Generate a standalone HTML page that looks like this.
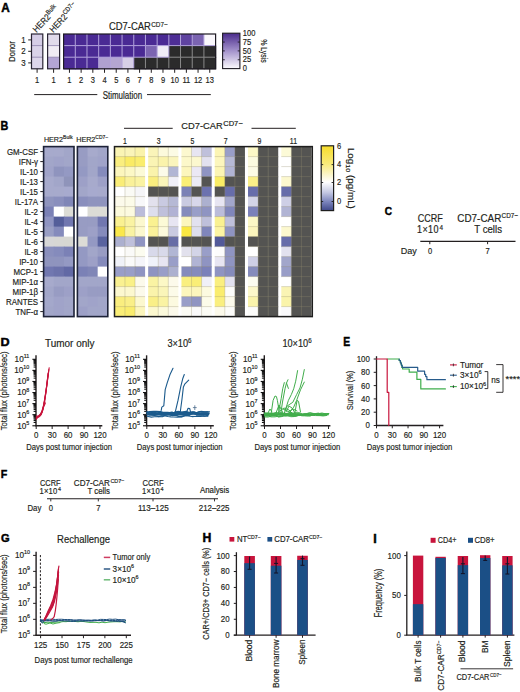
<!DOCTYPE html>
<html><head><meta charset="utf-8"><style>
html,body{margin:0;padding:0;background:#fff;width:520px;height:692px;overflow:hidden}
svg{display:block;font-family:"Liberation Sans",sans-serif}
text{fill:#231f20;stroke:#231f20;stroke-width:0.18px}
</style></head><body>
<svg width="520" height="692" viewBox="0 0 520 692">
<text transform="translate(1.16 11.50) scale(0.994 1)" font-size="11.85" font-weight="bold" style="fill:#000;stroke:#000;stroke-width:0.45px">A</text>
<g transform="translate(36.6 33.0) rotate(-47)"><text x="0" y="0" font-size="8.96" transform="translate(0.00 0.00) scale(0.8929 1) translate(-0.00 -0.00)">HER2<tspan dy="-3.58" font-size="6.50">Bulk</tspan></text></g>
<g transform="translate(53.2 33.0) rotate(-47)"><text x="0" y="0" font-size="8.96" transform="translate(0.00 0.00) scale(0.8929 1) translate(-0.00 -0.00)">HER2<tspan dy="-3.58" font-size="6.50">CD7−</tspan></text></g>
<rect x="31.50" y="34.00" width="11.30" height="12.20" fill="#d5cde6" />
<rect x="31.50" y="45.60" width="11.30" height="12.20" fill="#dad3e9" />
<rect x="31.50" y="57.20" width="11.30" height="11.60" fill="#ddd6eb" />
<line x1="31.50" y1="45.60" x2="42.80" y2="45.60" stroke="#8e82ad" stroke-width="0.8" />
<line x1="31.50" y1="57.20" x2="42.80" y2="57.20" stroke="#8e82ad" stroke-width="0.8" />
<rect x="31.50" y="34.00" width="11.30" height="34.80" fill="none" stroke="#2a2535" stroke-width="1.2" />
<rect x="47.60" y="34.00" width="12.00" height="12.20" fill="#e1dbeb" />
<rect x="47.60" y="45.60" width="12.00" height="12.20" fill="#f0ecf4" />
<rect x="47.60" y="57.20" width="12.00" height="11.60" fill="#b3a5d5" />
<line x1="47.60" y1="45.60" x2="59.60" y2="45.60" stroke="#8e82ad" stroke-width="0.8" />
<line x1="47.60" y1="57.20" x2="59.60" y2="57.20" stroke="#8e82ad" stroke-width="0.8" />
<rect x="47.60" y="34.00" width="12.00" height="34.80" fill="none" stroke="#2a2535" stroke-width="1.2" />
<rect x="63.60" y="34.00" width="12.29" height="12.20" fill="#4a2a94" />
<rect x="75.29" y="34.00" width="12.29" height="12.20" fill="#4a2a94" />
<rect x="86.98" y="34.00" width="12.29" height="12.20" fill="#4a2a94" />
<rect x="98.68" y="34.00" width="12.29" height="12.20" fill="#4a2a94" />
<rect x="110.37" y="34.00" width="12.29" height="12.20" fill="#4a2a94" />
<rect x="122.06" y="34.00" width="12.29" height="12.20" fill="#4a2a94" />
<rect x="133.75" y="34.00" width="12.29" height="12.20" fill="#4a2a94" />
<rect x="145.45" y="34.00" width="12.29" height="12.20" fill="#4a2a94" />
<rect x="157.14" y="34.00" width="12.29" height="12.20" fill="#4a2a94" />
<rect x="168.83" y="34.00" width="12.29" height="12.20" fill="#4e2e96" />
<rect x="180.52" y="34.00" width="12.29" height="12.20" fill="#5f43a0" />
<rect x="192.22" y="34.00" width="12.29" height="12.20" fill="#7b64b1" />
<rect x="203.91" y="34.00" width="12.29" height="12.20" fill="#faf8fc" />
<rect x="63.60" y="45.60" width="12.29" height="12.20" fill="#4a2a94" />
<rect x="75.29" y="45.60" width="12.29" height="12.20" fill="#4a2a94" />
<rect x="86.98" y="45.60" width="12.29" height="12.20" fill="#4a2a94" />
<rect x="98.68" y="45.60" width="12.29" height="12.20" fill="#4a2a94" />
<rect x="110.37" y="45.60" width="12.29" height="12.20" fill="#4a2a94" />
<rect x="122.06" y="45.60" width="12.29" height="12.20" fill="#4a2a94" />
<rect x="133.75" y="45.60" width="12.29" height="12.20" fill="#4a2a94" />
<rect x="145.45" y="45.60" width="12.29" height="12.20" fill="#7b64b1" />
<rect x="157.14" y="45.60" width="12.29" height="12.20" fill="#efecf6" />
<rect x="168.83" y="45.60" width="12.29" height="12.20" fill="#2b2b2b" />
<rect x="180.52" y="45.60" width="12.29" height="12.20" fill="#2b2b2b" />
<rect x="192.22" y="45.60" width="12.29" height="12.20" fill="#2b2b2b" />
<rect x="203.91" y="45.60" width="12.29" height="12.20" fill="#2b2b2b" />
<rect x="63.60" y="57.20" width="12.29" height="12.20" fill="#4a2a94" />
<rect x="75.29" y="57.20" width="12.29" height="12.20" fill="#4a2a94" />
<rect x="86.98" y="57.20" width="12.29" height="12.20" fill="#4a2a94" />
<rect x="98.68" y="57.20" width="12.29" height="12.20" fill="#b0a1d0" />
<rect x="110.37" y="57.20" width="12.29" height="12.20" fill="#b4a6d2" />
<rect x="122.06" y="57.20" width="12.29" height="12.20" fill="#d7cfe7" />
<rect x="133.75" y="57.20" width="12.29" height="12.20" fill="#2b2b2b" />
<rect x="145.45" y="57.20" width="12.29" height="12.20" fill="#2b2b2b" />
<rect x="157.14" y="57.20" width="12.29" height="12.20" fill="#2b2b2b" />
<rect x="168.83" y="57.20" width="12.29" height="12.20" fill="#2b2b2b" />
<rect x="180.52" y="57.20" width="12.29" height="12.20" fill="#2b2b2b" />
<rect x="192.22" y="57.20" width="12.29" height="12.20" fill="#2b2b2b" />
<rect x="203.91" y="57.20" width="12.29" height="12.20" fill="#2b2b2b" />
<line x1="75.29" y1="34.00" x2="75.29" y2="45.60" stroke="#b2a3dc" stroke-width="1.0" />
<line x1="75.29" y1="45.60" x2="75.29" y2="57.20" stroke="#b2a3dc" stroke-width="1.0" />
<line x1="75.29" y1="57.20" x2="75.29" y2="68.80" stroke="#b2a3dc" stroke-width="1.0" />
<line x1="86.98" y1="34.00" x2="86.98" y2="45.60" stroke="#b2a3dc" stroke-width="1.0" />
<line x1="86.98" y1="45.60" x2="86.98" y2="57.20" stroke="#b2a3dc" stroke-width="1.0" />
<line x1="86.98" y1="57.20" x2="86.98" y2="68.80" stroke="#b2a3dc" stroke-width="1.0" />
<line x1="98.68" y1="34.00" x2="98.68" y2="45.60" stroke="#b2a3dc" stroke-width="1.0" />
<line x1="98.68" y1="45.60" x2="98.68" y2="57.20" stroke="#b2a3dc" stroke-width="1.0" />
<line x1="98.68" y1="57.20" x2="98.68" y2="68.80" stroke="#b2a3dc" stroke-width="1.0" />
<line x1="110.37" y1="34.00" x2="110.37" y2="45.60" stroke="#b2a3dc" stroke-width="1.0" />
<line x1="110.37" y1="45.60" x2="110.37" y2="57.20" stroke="#b2a3dc" stroke-width="1.0" />
<line x1="110.37" y1="57.20" x2="110.37" y2="68.80" stroke="#b2a3dc" stroke-width="1.0" />
<line x1="122.06" y1="34.00" x2="122.06" y2="45.60" stroke="#b2a3dc" stroke-width="1.0" />
<line x1="122.06" y1="45.60" x2="122.06" y2="57.20" stroke="#b2a3dc" stroke-width="1.0" />
<line x1="122.06" y1="57.20" x2="122.06" y2="68.80" stroke="#b2a3dc" stroke-width="1.0" />
<line x1="133.75" y1="34.00" x2="133.75" y2="45.60" stroke="#b2a3dc" stroke-width="1.0" />
<line x1="133.75" y1="45.60" x2="133.75" y2="57.20" stroke="#b2a3dc" stroke-width="1.0" />
<line x1="133.75" y1="57.20" x2="133.75" y2="68.80" stroke="#b2a3dc" stroke-width="1.0" />
<line x1="145.45" y1="34.00" x2="145.45" y2="45.60" stroke="#b2a3dc" stroke-width="1.0" />
<line x1="145.45" y1="45.60" x2="145.45" y2="57.20" stroke="#b2a3dc" stroke-width="1.0" />
<line x1="145.45" y1="57.20" x2="145.45" y2="68.80" stroke="#8a8a8a" stroke-width="1.0" />
<line x1="157.14" y1="34.00" x2="157.14" y2="45.60" stroke="#b2a3dc" stroke-width="1.0" />
<line x1="157.14" y1="45.60" x2="157.14" y2="57.20" stroke="#b2a3dc" stroke-width="1.0" />
<line x1="157.14" y1="57.20" x2="157.14" y2="68.80" stroke="#8a8a8a" stroke-width="1.0" />
<line x1="168.83" y1="34.00" x2="168.83" y2="45.60" stroke="#b2a3dc" stroke-width="1.0" />
<line x1="168.83" y1="45.60" x2="168.83" y2="57.20" stroke="#b2a3dc" stroke-width="1.0" />
<line x1="168.83" y1="57.20" x2="168.83" y2="68.80" stroke="#8a8a8a" stroke-width="1.0" />
<line x1="180.52" y1="34.00" x2="180.52" y2="45.60" stroke="#b2a3dc" stroke-width="1.0" />
<line x1="180.52" y1="45.60" x2="180.52" y2="57.20" stroke="#8a8a8a" stroke-width="1.0" />
<line x1="180.52" y1="57.20" x2="180.52" y2="68.80" stroke="#8a8a8a" stroke-width="1.0" />
<line x1="192.22" y1="34.00" x2="192.22" y2="45.60" stroke="#b2a3dc" stroke-width="1.0" />
<line x1="192.22" y1="45.60" x2="192.22" y2="57.20" stroke="#8a8a8a" stroke-width="1.0" />
<line x1="192.22" y1="57.20" x2="192.22" y2="68.80" stroke="#8a8a8a" stroke-width="1.0" />
<line x1="203.91" y1="34.00" x2="203.91" y2="45.60" stroke="#b2a3dc" stroke-width="1.0" />
<line x1="203.91" y1="45.60" x2="203.91" y2="57.20" stroke="#8a8a8a" stroke-width="1.0" />
<line x1="203.91" y1="57.20" x2="203.91" y2="68.80" stroke="#8a8a8a" stroke-width="1.0" />
<line x1="63.60" y1="45.60" x2="75.29" y2="45.60" stroke="#b2a3dc" stroke-width="1.0" />
<line x1="75.29" y1="45.60" x2="86.98" y2="45.60" stroke="#b2a3dc" stroke-width="1.0" />
<line x1="86.98" y1="45.60" x2="98.68" y2="45.60" stroke="#b2a3dc" stroke-width="1.0" />
<line x1="98.68" y1="45.60" x2="110.37" y2="45.60" stroke="#b2a3dc" stroke-width="1.0" />
<line x1="110.37" y1="45.60" x2="122.06" y2="45.60" stroke="#b2a3dc" stroke-width="1.0" />
<line x1="122.06" y1="45.60" x2="133.75" y2="45.60" stroke="#b2a3dc" stroke-width="1.0" />
<line x1="133.75" y1="45.60" x2="145.45" y2="45.60" stroke="#b2a3dc" stroke-width="1.0" />
<line x1="145.45" y1="45.60" x2="157.14" y2="45.60" stroke="#b2a3dc" stroke-width="1.0" />
<line x1="157.14" y1="45.60" x2="168.83" y2="45.60" stroke="#b2a3dc" stroke-width="1.0" />
<line x1="168.83" y1="45.60" x2="180.52" y2="45.60" stroke="#b2a3dc" stroke-width="1.0" />
<line x1="180.52" y1="45.60" x2="192.22" y2="45.60" stroke="#b2a3dc" stroke-width="1.0" />
<line x1="192.22" y1="45.60" x2="203.91" y2="45.60" stroke="#b2a3dc" stroke-width="1.0" />
<line x1="203.91" y1="45.60" x2="215.60" y2="45.60" stroke="#b2a3dc" stroke-width="1.0" />
<line x1="63.60" y1="57.20" x2="75.29" y2="57.20" stroke="#b2a3dc" stroke-width="1.0" />
<line x1="75.29" y1="57.20" x2="86.98" y2="57.20" stroke="#b2a3dc" stroke-width="1.0" />
<line x1="86.98" y1="57.20" x2="98.68" y2="57.20" stroke="#b2a3dc" stroke-width="1.0" />
<line x1="98.68" y1="57.20" x2="110.37" y2="57.20" stroke="#b2a3dc" stroke-width="1.0" />
<line x1="110.37" y1="57.20" x2="122.06" y2="57.20" stroke="#b2a3dc" stroke-width="1.0" />
<line x1="122.06" y1="57.20" x2="133.75" y2="57.20" stroke="#b2a3dc" stroke-width="1.0" />
<line x1="133.75" y1="57.20" x2="145.45" y2="57.20" stroke="#b2a3dc" stroke-width="1.0" />
<line x1="145.45" y1="57.20" x2="157.14" y2="57.20" stroke="#b2a3dc" stroke-width="1.0" />
<line x1="157.14" y1="57.20" x2="168.83" y2="57.20" stroke="#b2a3dc" stroke-width="1.0" />
<line x1="168.83" y1="57.20" x2="180.52" y2="57.20" stroke="#8a8a8a" stroke-width="1.0" />
<line x1="180.52" y1="57.20" x2="192.22" y2="57.20" stroke="#8a8a8a" stroke-width="1.0" />
<line x1="192.22" y1="57.20" x2="203.91" y2="57.20" stroke="#8a8a8a" stroke-width="1.0" />
<line x1="203.91" y1="57.20" x2="215.60" y2="57.20" stroke="#8a8a8a" stroke-width="1.0" />
<rect x="63.60" y="34.00" width="152.00" height="34.80" fill="none" stroke="#1e1b24" stroke-width="1.2" />
<line x1="28.20" y1="39.90" x2="31.50" y2="39.90" stroke="#231f20" stroke-width="1" />
<text x="0" y="0" font-size="9.44" transform="translate(25.60 42.90) scale(0.840 1)" text-anchor="end" >1</text>
<line x1="28.20" y1="51.30" x2="31.50" y2="51.30" stroke="#231f20" stroke-width="1" />
<text x="0" y="0" font-size="9.44" transform="translate(25.60 54.30) scale(0.840 1)" text-anchor="end" >2</text>
<line x1="28.20" y1="62.90" x2="31.50" y2="62.90" stroke="#231f20" stroke-width="1" />
<text x="0" y="0" font-size="9.44" transform="translate(25.60 65.90) scale(0.840 1)" text-anchor="end" >3</text>
<g transform="translate(11.60 51.50) rotate(-90)"><text x="0" y="3.01" font-size="9.63" text-anchor="middle" textLength="22.96" lengthAdjust="spacingAndGlyphs" transform="translate(0.00 3.01) scale(0.8929 1) translate(-0.00 -3.01)">Donor</text></g>
<line x1="37.10" y1="68.80" x2="37.10" y2="72.80" stroke="#231f20" stroke-width="1" />
<text x="0" y="0" font-size="8.97" transform="translate(37.10 83.00) scale(0.840 1)" text-anchor="middle" >1</text>
<line x1="53.60" y1="68.80" x2="53.60" y2="72.80" stroke="#231f20" stroke-width="1" />
<text x="0" y="0" font-size="8.97" transform="translate(53.60 83.00) scale(0.840 1)" text-anchor="middle" >1</text>
<line x1="69.45" y1="68.80" x2="69.45" y2="72.80" stroke="#231f20" stroke-width="1" />
<text x="0" y="0" font-size="8.97" transform="translate(69.45 83.00) scale(0.840 1)" text-anchor="middle" >1</text>
<line x1="81.14" y1="68.80" x2="81.14" y2="72.80" stroke="#231f20" stroke-width="1" />
<text x="0" y="0" font-size="8.97" transform="translate(81.14 83.00) scale(0.840 1)" text-anchor="middle" >2</text>
<line x1="92.83" y1="68.80" x2="92.83" y2="72.80" stroke="#231f20" stroke-width="1" />
<text x="0" y="0" font-size="8.97" transform="translate(92.83 83.00) scale(0.840 1)" text-anchor="middle" >3</text>
<line x1="104.52" y1="68.80" x2="104.52" y2="72.80" stroke="#231f20" stroke-width="1" />
<text x="0" y="0" font-size="8.97" transform="translate(104.52 83.00) scale(0.840 1)" text-anchor="middle" >4</text>
<line x1="116.22" y1="68.80" x2="116.22" y2="72.80" stroke="#231f20" stroke-width="1" />
<text x="0" y="0" font-size="8.97" transform="translate(116.22 83.00) scale(0.840 1)" text-anchor="middle" >5</text>
<line x1="127.91" y1="68.80" x2="127.91" y2="72.80" stroke="#231f20" stroke-width="1" />
<text x="0" y="0" font-size="8.97" transform="translate(127.91 83.00) scale(0.840 1)" text-anchor="middle" >6</text>
<line x1="139.60" y1="68.80" x2="139.60" y2="72.80" stroke="#231f20" stroke-width="1" />
<text x="0" y="0" font-size="8.97" transform="translate(139.60 83.00) scale(0.840 1)" text-anchor="middle" >7</text>
<line x1="151.29" y1="68.80" x2="151.29" y2="72.80" stroke="#231f20" stroke-width="1" />
<text x="0" y="0" font-size="8.97" transform="translate(151.29 83.00) scale(0.840 1)" text-anchor="middle" >8</text>
<line x1="162.98" y1="68.80" x2="162.98" y2="72.80" stroke="#231f20" stroke-width="1" />
<text x="0" y="0" font-size="8.97" transform="translate(162.98 83.00) scale(0.840 1)" text-anchor="middle" >9</text>
<line x1="174.68" y1="68.80" x2="174.68" y2="72.80" stroke="#231f20" stroke-width="1" />
<text x="0" y="0" font-size="8.97" transform="translate(174.68 83.00) scale(0.840 1)" text-anchor="middle" >10</text>
<line x1="186.37" y1="68.80" x2="186.37" y2="72.80" stroke="#231f20" stroke-width="1" />
<text x="0" y="0" font-size="8.97" transform="translate(186.37 83.00) scale(0.840 1)" text-anchor="middle" >11</text>
<line x1="198.06" y1="68.80" x2="198.06" y2="72.80" stroke="#231f20" stroke-width="1" />
<text x="0" y="0" font-size="8.97" transform="translate(198.06 83.00) scale(0.840 1)" text-anchor="middle" >12</text>
<line x1="209.75" y1="68.80" x2="209.75" y2="72.80" stroke="#231f20" stroke-width="1" />
<text x="0" y="0" font-size="8.97" transform="translate(209.75 83.00) scale(0.840 1)" text-anchor="middle" >13</text>
<line x1="34.20" y1="94.60" x2="97.30" y2="94.60" stroke="#231f20" stroke-width="1" />
<line x1="147.00" y1="94.60" x2="210.80" y2="94.60" stroke="#231f20" stroke-width="1" />
<text x="102.70" y="98.60" font-size="10.08" textLength="44.13" lengthAdjust="spacingAndGlyphs"  transform="translate(102.70 98.60) scale(0.8929 1) translate(-102.70 -98.60)">Stimulation</text>
<text x="108.9" y="30.0" font-size="10.53" textLength="47.04" lengthAdjust="spacingAndGlyphs" transform="translate(108.90 30.00) scale(0.8929 1) translate(-108.90 -30.00)">CD7-CAR</text>
<text x="151.2" y="26.8" font-size="7.39" textLength="18.48" lengthAdjust="spacingAndGlyphs" transform="translate(151.20 26.80) scale(0.8929 1) translate(-151.20 -26.80)">CD7−</text>
<defs><linearGradient id="gA" x1="0" y1="0" x2="0" y2="1"><stop offset="0" stop-color="#4a2b8c"/><stop offset="0.5" stop-color="#a493cc"/><stop offset="1" stop-color="#fbfafd"/></linearGradient><linearGradient id="gB" x1="0" y1="0" x2="0" y2="1"><stop offset="0" stop-color="#f6dc2a"/><stop offset="0.28" stop-color="#f8ea7a"/><stop offset="0.45" stop-color="#fbf5cc"/><stop offset="0.56" stop-color="#ffffff"/><stop offset="0.72" stop-color="#c4c8e2"/><stop offset="0.86" stop-color="#7d86bd"/><stop offset="1" stop-color="#3f4889"/></linearGradient></defs>
<rect x="222.60" y="33.20" width="17.30" height="35.40" fill="url(#gA)" stroke="#1e1b24" stroke-width="1.1" />
<text x="0" y="0" font-size="8.97" transform="translate(242.80 35.90) scale(0.840 1)" >100</text>
<line x1="222.60" y1="42.05" x2="224.80" y2="42.05" stroke="#1e1b24" stroke-width="0.9" />
<line x1="237.70" y1="42.05" x2="239.90" y2="42.05" stroke="#1e1b24" stroke-width="0.9" />
<text x="0" y="0" font-size="8.97" transform="translate(242.80 44.75) scale(0.840 1)" >75</text>
<line x1="222.60" y1="50.90" x2="224.80" y2="50.90" stroke="#1e1b24" stroke-width="0.9" />
<line x1="237.70" y1="50.90" x2="239.90" y2="50.90" stroke="#1e1b24" stroke-width="0.9" />
<text x="0" y="0" font-size="8.97" transform="translate(242.80 53.60) scale(0.840 1)" >50</text>
<line x1="222.60" y1="59.75" x2="224.80" y2="59.75" stroke="#1e1b24" stroke-width="0.9" />
<line x1="237.70" y1="59.75" x2="239.90" y2="59.75" stroke="#1e1b24" stroke-width="0.9" />
<text x="0" y="0" font-size="8.97" transform="translate(242.80 62.45) scale(0.840 1)" >25</text>
<text x="0" y="0" font-size="8.97" transform="translate(242.80 71.30) scale(0.840 1)" >0</text>
<g transform="translate(263.40 51.00) rotate(90)"><text x="0" y="2.66" font-size="8.51" text-anchor="middle" textLength="26.54" lengthAdjust="spacingAndGlyphs" transform="translate(0.00 2.66) scale(0.8929 1) translate(-0.00 -2.66)">% Lysis</text></g>
<text transform="translate(0.53 129.60) scale(0.891 1)" font-size="12.14" font-weight="bold" style="fill:#000;stroke:#000;stroke-width:0.45px">B</text>
<text x="43.9" y="142.3" font-size="8.06" transform="translate(43.90 142.30) scale(0.8929 1) translate(-43.90 -142.30)">HER2<tspan dy="-3.14" font-size="5.60">Bulk</tspan></text>
<text x="76.2" y="142.3" font-size="8.06" transform="translate(76.20 142.30) scale(0.8929 1) translate(-76.20 -142.30)">HER2<tspan dy="-3.14" font-size="5.60">CD7−</tspan></text>
<line x1="40.30" y1="151.60" x2="43.60" y2="151.60" stroke="#231f20" stroke-width="1" />
<text x="38.00" y="155.10" font-size="8.85" text-anchor="end"  transform="translate(38.00 155.10) scale(0.8929 1) translate(-38.00 -155.10)">GM-CSF</text>
<line x1="40.30" y1="161.60" x2="43.60" y2="161.60" stroke="#231f20" stroke-width="1" />
<text x="38.00" y="165.10" font-size="8.85" text-anchor="end"  transform="translate(38.00 165.10) scale(0.8929 1) translate(-38.00 -165.10)">IFN-γ</text>
<line x1="40.30" y1="171.60" x2="43.60" y2="171.60" stroke="#231f20" stroke-width="1" />
<text x="38.00" y="175.10" font-size="8.85" text-anchor="end"  transform="translate(38.00 175.10) scale(0.8929 1) translate(-38.00 -175.10)">IL-10</text>
<line x1="40.30" y1="181.60" x2="43.60" y2="181.60" stroke="#231f20" stroke-width="1" />
<text x="38.00" y="185.10" font-size="8.85" text-anchor="end"  transform="translate(38.00 185.10) scale(0.8929 1) translate(-38.00 -185.10)">IL-13</text>
<line x1="40.30" y1="191.60" x2="43.60" y2="191.60" stroke="#231f20" stroke-width="1" />
<text x="38.00" y="195.10" font-size="8.85" text-anchor="end"  transform="translate(38.00 195.10) scale(0.8929 1) translate(-38.00 -195.10)">IL-15</text>
<line x1="40.30" y1="201.60" x2="43.60" y2="201.60" stroke="#231f20" stroke-width="1" />
<text x="38.00" y="205.10" font-size="8.85" text-anchor="end"  transform="translate(38.00 205.10) scale(0.8929 1) translate(-38.00 -205.10)">IL-17A</text>
<line x1="40.30" y1="211.60" x2="43.60" y2="211.60" stroke="#231f20" stroke-width="1" />
<text x="38.00" y="215.10" font-size="8.85" text-anchor="end"  transform="translate(38.00 215.10) scale(0.8929 1) translate(-38.00 -215.10)">IL-2</text>
<line x1="40.30" y1="221.60" x2="43.60" y2="221.60" stroke="#231f20" stroke-width="1" />
<text x="38.00" y="225.10" font-size="8.85" text-anchor="end"  transform="translate(38.00 225.10) scale(0.8929 1) translate(-38.00 -225.10)">IL-4</text>
<line x1="40.30" y1="231.60" x2="43.60" y2="231.60" stroke="#231f20" stroke-width="1" />
<text x="38.00" y="235.10" font-size="8.85" text-anchor="end"  transform="translate(38.00 235.10) scale(0.8929 1) translate(-38.00 -235.10)">IL-5</text>
<line x1="40.30" y1="241.60" x2="43.60" y2="241.60" stroke="#231f20" stroke-width="1" />
<text x="38.00" y="245.10" font-size="8.85" text-anchor="end"  transform="translate(38.00 245.10) scale(0.8929 1) translate(-38.00 -245.10)">IL-6</text>
<line x1="40.30" y1="251.60" x2="43.60" y2="251.60" stroke="#231f20" stroke-width="1" />
<text x="38.00" y="255.10" font-size="8.85" text-anchor="end"  transform="translate(38.00 255.10) scale(0.8929 1) translate(-38.00 -255.10)">IL-8</text>
<line x1="40.30" y1="261.60" x2="43.60" y2="261.60" stroke="#231f20" stroke-width="1" />
<text x="38.00" y="265.10" font-size="8.85" text-anchor="end"  transform="translate(38.00 265.10) scale(0.8929 1) translate(-38.00 -265.10)">IP-10</text>
<line x1="40.30" y1="271.60" x2="43.60" y2="271.60" stroke="#231f20" stroke-width="1" />
<text x="38.00" y="275.10" font-size="8.85" text-anchor="end"  transform="translate(38.00 275.10) scale(0.8929 1) translate(-38.00 -275.10)">MCP-1</text>
<line x1="40.30" y1="281.60" x2="43.60" y2="281.60" stroke="#231f20" stroke-width="1" />
<text x="38.00" y="285.10" font-size="8.85" text-anchor="end"  transform="translate(38.00 285.10) scale(0.8929 1) translate(-38.00 -285.10)">MIP-1α</text>
<line x1="40.30" y1="291.60" x2="43.60" y2="291.60" stroke="#231f20" stroke-width="1" />
<text x="38.00" y="295.10" font-size="8.85" text-anchor="end"  transform="translate(38.00 295.10) scale(0.8929 1) translate(-38.00 -295.10)">MIP-1β</text>
<line x1="40.30" y1="301.60" x2="43.60" y2="301.60" stroke="#231f20" stroke-width="1" />
<text x="38.00" y="305.10" font-size="8.85" text-anchor="end"  transform="translate(38.00 305.10) scale(0.8929 1) translate(-38.00 -305.10)">RANTES</text>
<line x1="40.30" y1="311.60" x2="43.60" y2="311.60" stroke="#231f20" stroke-width="1" />
<text x="38.00" y="315.10" font-size="8.85" text-anchor="end"  transform="translate(38.00 315.10) scale(0.8929 1) translate(-38.00 -315.10)">TNF-α</text>
<rect x="43.60" y="146.60" width="10.73" height="10.60" fill="#a7aacc" />
<rect x="53.73" y="146.60" width="10.73" height="10.60" fill="#a7aacc" />
<rect x="63.87" y="146.60" width="10.13" height="10.60" fill="#a2a6c9" />
<rect x="43.60" y="156.60" width="10.73" height="10.60" fill="#a2a6c9" />
<rect x="53.73" y="156.60" width="10.73" height="10.60" fill="#a0a3c9" />
<rect x="63.87" y="156.60" width="10.13" height="10.60" fill="#a2a6c9" />
<rect x="43.60" y="166.60" width="10.73" height="10.60" fill="#a0a3c9" />
<rect x="53.73" y="166.60" width="10.73" height="10.60" fill="#8f94be" />
<rect x="63.87" y="166.60" width="10.13" height="10.60" fill="#9499c3" />
<rect x="43.60" y="176.60" width="10.73" height="10.60" fill="#a7aacc" />
<rect x="53.73" y="176.60" width="10.73" height="10.60" fill="#a2a6c9" />
<rect x="63.87" y="176.60" width="10.13" height="10.60" fill="#8f94ba" />
<rect x="43.60" y="186.60" width="10.73" height="10.60" fill="#a7aacc" />
<rect x="53.73" y="186.60" width="10.73" height="10.60" fill="#a7aacc" />
<rect x="63.87" y="186.60" width="10.13" height="10.60" fill="#a7aace" />
<rect x="43.60" y="196.60" width="10.73" height="10.60" fill="#8f94be" />
<rect x="53.73" y="196.60" width="10.73" height="10.60" fill="#8a8fbd" />
<rect x="63.87" y="196.60" width="10.13" height="10.60" fill="#8086b7" />
<rect x="43.60" y="206.60" width="10.73" height="10.60" fill="#7b81b6" />
<rect x="53.73" y="206.60" width="10.73" height="10.60" fill="#ffffff" />
<rect x="63.87" y="206.60" width="10.13" height="10.60" fill="#dcdcd6" />
<rect x="43.60" y="216.60" width="10.73" height="10.60" fill="#8f94c2" />
<rect x="53.73" y="216.60" width="10.73" height="10.60" fill="#545e9a" />
<rect x="63.87" y="216.60" width="10.13" height="10.60" fill="#7177b0" />
<rect x="43.60" y="226.60" width="10.73" height="10.60" fill="#999ec4" />
<rect x="53.73" y="226.60" width="10.73" height="10.60" fill="#858bbc" />
<rect x="63.87" y="226.60" width="10.13" height="10.60" fill="#ffffff" />
<rect x="43.60" y="236.60" width="10.73" height="10.60" fill="#d7d7d7" />
<rect x="53.73" y="236.60" width="10.73" height="10.60" fill="#d7d7d4" />
<rect x="63.87" y="236.60" width="10.13" height="10.60" fill="#d7d7d2" />
<rect x="43.60" y="246.60" width="10.73" height="10.60" fill="#8a8fbd" />
<rect x="53.73" y="246.60" width="10.73" height="10.60" fill="#858bbc" />
<rect x="63.87" y="246.60" width="10.13" height="10.60" fill="#7b81b6" />
<rect x="43.60" y="256.60" width="10.73" height="10.60" fill="#8f94be" />
<rect x="53.73" y="256.60" width="10.73" height="10.60" fill="#8f94be" />
<rect x="63.87" y="256.60" width="10.13" height="10.60" fill="#9499c3" />
<rect x="43.60" y="266.60" width="10.73" height="10.60" fill="#7177b0" />
<rect x="53.73" y="266.60" width="10.73" height="10.60" fill="#6c72ab" />
<rect x="63.87" y="266.60" width="10.13" height="10.60" fill="#6269a5" />
<rect x="43.60" y="276.60" width="10.73" height="10.60" fill="#a7aacc" />
<rect x="53.73" y="276.60" width="10.73" height="10.60" fill="#a2a6c9" />
<rect x="63.87" y="276.60" width="10.13" height="10.60" fill="#a2a6c9" />
<rect x="43.60" y="286.60" width="10.73" height="10.60" fill="#a2a6c9" />
<rect x="53.73" y="286.60" width="10.73" height="10.60" fill="#989cc3" />
<rect x="63.87" y="286.60" width="10.13" height="10.60" fill="#9da0c7" />
<rect x="43.60" y="296.60" width="10.73" height="10.60" fill="#a4a8cb" />
<rect x="53.73" y="296.60" width="10.73" height="10.60" fill="#a0a3c9" />
<rect x="63.87" y="296.60" width="10.13" height="10.60" fill="#a2a6c9" />
<rect x="43.60" y="306.60" width="10.73" height="10.00" fill="#a2a6c9" />
<rect x="53.73" y="306.60" width="10.73" height="10.00" fill="#a0a3c9" />
<rect x="63.87" y="306.60" width="10.13" height="10.00" fill="#a2a6c9" />
<rect x="43.60" y="146.60" width="30.40" height="170.00" fill="none" stroke="#1d2238" stroke-width="1.6" />
<rect x="77.40" y="146.60" width="10.73" height="10.60" fill="#989cc3" />
<rect x="87.53" y="146.60" width="10.73" height="10.60" fill="#a7aacc" />
<rect x="97.67" y="146.60" width="10.13" height="10.60" fill="#a2a6c9" />
<rect x="77.40" y="156.60" width="10.73" height="10.60" fill="#989cc3" />
<rect x="87.53" y="156.60" width="10.73" height="10.60" fill="#a2a6c9" />
<rect x="97.67" y="156.60" width="10.13" height="10.60" fill="#a0a3c9" />
<rect x="77.40" y="166.60" width="10.73" height="10.60" fill="#9499c3" />
<rect x="87.53" y="166.60" width="10.73" height="10.60" fill="#a2a6c9" />
<rect x="97.67" y="166.60" width="10.13" height="10.60" fill="#858bbc" />
<rect x="77.40" y="176.60" width="10.73" height="10.60" fill="#9da0c7" />
<rect x="87.53" y="176.60" width="10.73" height="10.60" fill="#a7aacc" />
<rect x="97.67" y="176.60" width="10.13" height="10.60" fill="#9da0c7" />
<rect x="77.40" y="186.60" width="10.73" height="10.60" fill="#a2a6c9" />
<rect x="87.53" y="186.60" width="10.73" height="10.60" fill="#a7aace" />
<rect x="97.67" y="186.60" width="10.13" height="10.60" fill="#a7aacc" />
<rect x="77.40" y="196.60" width="10.73" height="10.60" fill="#8a8fbd" />
<rect x="87.53" y="196.60" width="10.73" height="10.60" fill="#8f94be" />
<rect x="97.67" y="196.60" width="10.13" height="10.60" fill="#8f94be" />
<rect x="77.40" y="206.60" width="10.73" height="10.60" fill="#ffffff" />
<rect x="87.53" y="206.60" width="10.73" height="10.60" fill="#dcdcd6" />
<rect x="97.67" y="206.60" width="10.13" height="10.60" fill="#dcdcd6" />
<rect x="77.40" y="216.60" width="10.73" height="10.60" fill="#989cc3" />
<rect x="87.53" y="216.60" width="10.73" height="10.60" fill="#989cc3" />
<rect x="97.67" y="216.60" width="10.13" height="10.60" fill="#7177b0" />
<rect x="77.40" y="226.60" width="10.73" height="10.60" fill="#989cc3" />
<rect x="87.53" y="226.60" width="10.73" height="10.60" fill="#9da0c7" />
<rect x="97.67" y="226.60" width="10.13" height="10.60" fill="#858bbc" />
<rect x="77.40" y="236.60" width="10.73" height="10.60" fill="#dcdcd6" />
<rect x="87.53" y="236.60" width="10.73" height="10.60" fill="#9499c3" />
<rect x="97.67" y="236.60" width="10.13" height="10.60" fill="#59639f" />
<rect x="77.40" y="246.60" width="10.73" height="10.60" fill="#9499c3" />
<rect x="87.53" y="246.60" width="10.73" height="10.60" fill="#a2a6c9" />
<rect x="97.67" y="246.60" width="10.13" height="10.60" fill="#989cc3" />
<rect x="77.40" y="256.60" width="10.73" height="10.60" fill="#9499c3" />
<rect x="87.53" y="256.60" width="10.73" height="10.60" fill="#9da0c7" />
<rect x="97.67" y="256.60" width="10.13" height="10.60" fill="#858bbc" />
<rect x="77.40" y="266.60" width="10.73" height="10.60" fill="#7b81b6" />
<rect x="87.53" y="266.60" width="10.73" height="10.60" fill="#8086b7" />
<rect x="97.67" y="266.60" width="10.13" height="10.60" fill="#ffffff" />
<rect x="77.40" y="276.60" width="10.73" height="10.60" fill="#a2a6c9" />
<rect x="87.53" y="276.60" width="10.73" height="10.60" fill="#a2a6c9" />
<rect x="97.67" y="276.60" width="10.13" height="10.60" fill="#a2a6c9" />
<rect x="77.40" y="286.60" width="10.73" height="10.60" fill="#9da0c7" />
<rect x="87.53" y="286.60" width="10.73" height="10.60" fill="#989cc3" />
<rect x="97.67" y="286.60" width="10.13" height="10.60" fill="#989cc3" />
<rect x="77.40" y="296.60" width="10.73" height="10.60" fill="#a2a6c9" />
<rect x="87.53" y="296.60" width="10.73" height="10.60" fill="#a0a3c9" />
<rect x="97.67" y="296.60" width="10.13" height="10.60" fill="#a2a6c9" />
<rect x="77.40" y="306.60" width="10.73" height="10.00" fill="#9da0c7" />
<rect x="87.53" y="306.60" width="10.73" height="10.00" fill="#a2a6c9" />
<rect x="97.67" y="306.60" width="10.13" height="10.00" fill="#a2a6c9" />
<rect x="77.40" y="146.60" width="30.40" height="170.00" fill="none" stroke="#1d2238" stroke-width="1.6" />
<rect x="114.90" y="146.60" width="10.67" height="10.60" fill="#faf4b4" />
<rect x="124.97" y="146.60" width="10.67" height="10.60" fill="#faf4b9" />
<rect x="135.03" y="146.60" width="10.07" height="10.60" fill="#faf3ab" />
<rect x="114.90" y="156.60" width="10.67" height="10.60" fill="#faee7f" />
<rect x="124.97" y="156.60" width="10.67" height="10.60" fill="#faeb65" />
<rect x="135.03" y="156.60" width="10.07" height="10.60" fill="#faed6e" />
<rect x="114.90" y="166.60" width="10.67" height="10.60" fill="#fcf6bd" />
<rect x="124.97" y="166.60" width="10.67" height="10.60" fill="#fcf8c6" />
<rect x="135.03" y="166.60" width="10.07" height="10.60" fill="#fcfad7" />
<rect x="114.90" y="176.60" width="10.67" height="10.60" fill="#faed77" />
<rect x="124.97" y="176.60" width="10.67" height="10.60" fill="#faf19a" />
<rect x="135.03" y="176.60" width="10.07" height="10.60" fill="#faf3a3" />
<rect x="114.90" y="186.60" width="10.67" height="10.60" fill="#ffffff" />
<rect x="124.97" y="186.60" width="10.67" height="10.60" fill="#fafaf5" />
<rect x="135.03" y="186.60" width="10.07" height="10.60" fill="#f5f5f8" />
<rect x="114.90" y="196.60" width="10.67" height="10.60" fill="#fcfaeb" />
<rect x="124.97" y="196.60" width="10.67" height="10.60" fill="#fcfbe9" />
<rect x="135.03" y="196.60" width="10.07" height="10.60" fill="#f8f8fa" />
<rect x="114.90" y="206.60" width="10.67" height="10.60" fill="#fcfadc" />
<rect x="124.97" y="206.60" width="10.67" height="10.60" fill="#fcfae0" />
<rect x="135.03" y="206.60" width="10.07" height="10.60" fill="#bbbcda" />
<rect x="114.90" y="216.60" width="10.67" height="10.60" fill="#faf191" />
<rect x="124.97" y="216.60" width="10.67" height="10.60" fill="#faf3a3" />
<rect x="135.03" y="216.60" width="10.07" height="10.60" fill="#fcf8cf" />
<rect x="114.90" y="226.60" width="10.67" height="10.60" fill="#fae84b" />
<rect x="124.97" y="226.60" width="10.67" height="10.60" fill="#faf3a3" />
<rect x="135.03" y="226.60" width="10.07" height="10.60" fill="#fcf8cf" />
<rect x="114.90" y="236.60" width="10.67" height="10.60" fill="#acb0cf" />
<rect x="124.97" y="236.60" width="10.67" height="10.60" fill="#bfc0db" />
<rect x="135.03" y="236.60" width="10.07" height="10.60" fill="#8f94c2" />
<rect x="114.90" y="246.60" width="10.67" height="10.60" fill="#ffffff" />
<rect x="124.97" y="246.60" width="10.67" height="10.60" fill="#fafaf8" />
<rect x="135.03" y="246.60" width="10.07" height="10.60" fill="#fcfcf0" />
<rect x="114.90" y="256.60" width="10.67" height="10.60" fill="#f0f2f8" />
<rect x="124.97" y="256.60" width="10.67" height="10.60" fill="#fafafa" />
<rect x="135.03" y="256.60" width="10.07" height="10.60" fill="#f5f5fa" />
<rect x="114.90" y="266.60" width="10.67" height="10.60" fill="#999ec8" />
<rect x="124.97" y="266.60" width="10.67" height="10.60" fill="#999ec8" />
<rect x="135.03" y="266.60" width="10.07" height="10.60" fill="#8f94c2" />
<rect x="114.90" y="276.60" width="10.67" height="10.60" fill="#faf191" />
<rect x="124.97" y="276.60" width="10.67" height="10.60" fill="#faf188" />
<rect x="135.03" y="276.60" width="10.07" height="10.60" fill="#fcfaeb" />
<rect x="114.90" y="286.60" width="10.67" height="10.60" fill="#fcf8cf" />
<rect x="124.97" y="286.60" width="10.67" height="10.60" fill="#fcf8cf" />
<rect x="135.03" y="286.60" width="10.07" height="10.60" fill="#fcfaeb" />
<rect x="114.90" y="296.60" width="10.67" height="10.60" fill="#faee7f" />
<rect x="124.97" y="296.60" width="10.67" height="10.60" fill="#faef88" />
<rect x="135.03" y="296.60" width="10.07" height="10.60" fill="#fcf8cf" />
<rect x="114.90" y="306.60" width="10.67" height="10.00" fill="#faee77" />
<rect x="124.97" y="306.60" width="10.67" height="10.00" fill="#faed6e" />
<rect x="135.03" y="306.60" width="10.07" height="10.00" fill="#fcf6bd" />
<line x1="124.97" y1="146.60" x2="124.97" y2="316.60" stroke="rgba(150,145,110,0.45)" stroke-width="0.7" />
<line x1="135.03" y1="146.60" x2="135.03" y2="316.60" stroke="rgba(150,145,110,0.45)" stroke-width="0.7" />
<line x1="114.90" y1="156.60" x2="145.10" y2="156.60" stroke="rgba(150,145,110,0.45)" stroke-width="0.7" />
<line x1="114.90" y1="166.60" x2="145.10" y2="166.60" stroke="rgba(150,145,110,0.45)" stroke-width="0.7" />
<line x1="114.90" y1="176.60" x2="145.10" y2="176.60" stroke="rgba(150,145,110,0.45)" stroke-width="0.7" />
<line x1="114.90" y1="186.60" x2="145.10" y2="186.60" stroke="rgba(150,145,110,0.45)" stroke-width="0.7" />
<line x1="114.90" y1="196.60" x2="145.10" y2="196.60" stroke="rgba(150,145,110,0.45)" stroke-width="0.7" />
<line x1="114.90" y1="206.60" x2="145.10" y2="206.60" stroke="rgba(150,145,110,0.45)" stroke-width="0.7" />
<line x1="114.90" y1="216.60" x2="145.10" y2="216.60" stroke="rgba(150,145,110,0.45)" stroke-width="0.7" />
<line x1="114.90" y1="226.60" x2="145.10" y2="226.60" stroke="rgba(150,145,110,0.45)" stroke-width="0.7" />
<line x1="114.90" y1="236.60" x2="145.10" y2="236.60" stroke="rgba(150,145,110,0.45)" stroke-width="0.7" />
<line x1="114.90" y1="246.60" x2="145.10" y2="246.60" stroke="rgba(150,145,110,0.45)" stroke-width="0.7" />
<line x1="114.90" y1="256.60" x2="145.10" y2="256.60" stroke="rgba(150,145,110,0.45)" stroke-width="0.7" />
<line x1="114.90" y1="266.60" x2="145.10" y2="266.60" stroke="rgba(150,145,110,0.45)" stroke-width="0.7" />
<line x1="114.90" y1="276.60" x2="145.10" y2="276.60" stroke="rgba(150,145,110,0.45)" stroke-width="0.7" />
<line x1="114.90" y1="286.60" x2="145.10" y2="286.60" stroke="rgba(150,145,110,0.45)" stroke-width="0.7" />
<line x1="114.90" y1="296.60" x2="145.10" y2="296.60" stroke="rgba(150,145,110,0.45)" stroke-width="0.7" />
<line x1="114.90" y1="306.60" x2="145.10" y2="306.60" stroke="rgba(150,145,110,0.45)" stroke-width="0.7" />
<rect x="148.18" y="146.60" width="10.67" height="10.60" fill="#faf4b9" />
<rect x="158.25" y="146.60" width="10.67" height="10.60" fill="#fcfadc" />
<rect x="168.31" y="146.60" width="10.07" height="10.60" fill="#fcfbe5" />
<rect x="148.18" y="156.60" width="10.67" height="10.60" fill="#faf4b4" />
<rect x="158.25" y="156.60" width="10.67" height="10.60" fill="#faf3ab" />
<rect x="168.31" y="156.60" width="10.07" height="10.60" fill="#faf5bd" />
<rect x="148.18" y="166.60" width="10.67" height="10.60" fill="#faf3ab" />
<rect x="158.25" y="166.60" width="10.67" height="10.60" fill="#fcfbe9" />
<rect x="168.31" y="166.60" width="10.07" height="10.60" fill="#b1b6d4" />
<rect x="148.18" y="176.60" width="10.67" height="10.60" fill="#faee7f" />
<rect x="158.25" y="176.60" width="10.67" height="10.60" fill="#faf5b9" />
<rect x="168.31" y="176.60" width="10.07" height="10.60" fill="#f0f0f8" />
<rect x="148.18" y="186.60" width="10.67" height="10.60" fill="#545452" />
<rect x="158.25" y="186.60" width="10.67" height="10.60" fill="#545452" />
<rect x="168.31" y="186.60" width="10.07" height="10.60" fill="#545452" />
<rect x="148.18" y="196.60" width="10.67" height="10.60" fill="#e2e1ed" />
<rect x="158.25" y="196.60" width="10.67" height="10.60" fill="#c9cae1" />
<rect x="168.31" y="196.60" width="10.07" height="10.60" fill="#b6b9d5" />
<rect x="148.18" y="206.60" width="10.67" height="10.60" fill="#dddeed" />
<rect x="158.25" y="206.60" width="10.67" height="10.60" fill="#bfc0db" />
<rect x="168.31" y="206.60" width="10.07" height="10.60" fill="#b1b2d4" />
<rect x="148.18" y="216.60" width="10.67" height="10.60" fill="#faf191" />
<rect x="158.25" y="216.60" width="10.67" height="10.60" fill="#fcfad7" />
<rect x="168.31" y="216.60" width="10.07" height="10.60" fill="#e7e5f2" />
<rect x="148.18" y="226.60" width="10.67" height="10.60" fill="#faf19a" />
<rect x="158.25" y="226.60" width="10.67" height="10.60" fill="#fcfadc" />
<rect x="168.31" y="226.60" width="10.07" height="10.60" fill="#c9cae1" />
<rect x="148.18" y="236.60" width="10.67" height="10.60" fill="#545452" />
<rect x="158.25" y="236.60" width="10.67" height="10.60" fill="#545452" />
<rect x="168.31" y="236.60" width="10.07" height="10.60" fill="#676da6" />
<rect x="148.18" y="246.60" width="10.67" height="10.60" fill="#d8d9ea" />
<rect x="158.25" y="246.60" width="10.67" height="10.60" fill="#d8d9ea" />
<rect x="168.31" y="246.60" width="10.07" height="10.60" fill="#b1b6d4" />
<rect x="148.18" y="256.60" width="10.67" height="10.60" fill="#f0f2fa" />
<rect x="158.25" y="256.60" width="10.67" height="10.60" fill="#e7e5f2" />
<rect x="168.31" y="256.60" width="10.07" height="10.60" fill="#999ec8" />
<rect x="148.18" y="266.60" width="10.67" height="10.60" fill="#8f94c2" />
<rect x="158.25" y="266.60" width="10.67" height="10.60" fill="#999ec8" />
<rect x="168.31" y="266.60" width="10.07" height="10.60" fill="#acb0cf" />
<rect x="148.18" y="276.60" width="10.67" height="10.60" fill="#faf3a3" />
<rect x="158.25" y="276.60" width="10.67" height="10.60" fill="#fcf8c6" />
<rect x="168.31" y="276.60" width="10.07" height="10.60" fill="#fcfaeb" />
<rect x="148.18" y="286.60" width="10.67" height="10.60" fill="#faf3ab" />
<rect x="158.25" y="286.60" width="10.67" height="10.60" fill="#faf5b9" />
<rect x="168.31" y="286.60" width="10.07" height="10.60" fill="#fcfbe9" />
<rect x="148.18" y="296.60" width="10.67" height="10.60" fill="#faef88" />
<rect x="158.25" y="296.60" width="10.67" height="10.60" fill="#faf3a3" />
<rect x="168.31" y="296.60" width="10.07" height="10.60" fill="#fcfae0" />
<rect x="148.18" y="306.60" width="10.67" height="10.00" fill="#fcf8cf" />
<rect x="158.25" y="306.60" width="10.67" height="10.00" fill="#fcfadc" />
<rect x="168.31" y="306.60" width="10.07" height="10.00" fill="#fcfaeb" />
<line x1="158.25" y1="146.60" x2="158.25" y2="316.60" stroke="rgba(150,145,110,0.45)" stroke-width="0.7" />
<line x1="168.31" y1="146.60" x2="168.31" y2="316.60" stroke="rgba(150,145,110,0.45)" stroke-width="0.7" />
<line x1="148.18" y1="156.60" x2="178.38" y2="156.60" stroke="rgba(150,145,110,0.45)" stroke-width="0.7" />
<line x1="148.18" y1="166.60" x2="178.38" y2="166.60" stroke="rgba(150,145,110,0.45)" stroke-width="0.7" />
<line x1="148.18" y1="176.60" x2="178.38" y2="176.60" stroke="rgba(150,145,110,0.45)" stroke-width="0.7" />
<line x1="148.18" y1="186.60" x2="178.38" y2="186.60" stroke="rgba(150,145,110,0.45)" stroke-width="0.7" />
<line x1="148.18" y1="196.60" x2="178.38" y2="196.60" stroke="rgba(150,145,110,0.45)" stroke-width="0.7" />
<line x1="148.18" y1="206.60" x2="178.38" y2="206.60" stroke="rgba(150,145,110,0.45)" stroke-width="0.7" />
<line x1="148.18" y1="216.60" x2="178.38" y2="216.60" stroke="rgba(150,145,110,0.45)" stroke-width="0.7" />
<line x1="148.18" y1="226.60" x2="178.38" y2="226.60" stroke="rgba(150,145,110,0.45)" stroke-width="0.7" />
<line x1="148.18" y1="236.60" x2="178.38" y2="236.60" stroke="rgba(150,145,110,0.45)" stroke-width="0.7" />
<line x1="148.18" y1="246.60" x2="178.38" y2="246.60" stroke="rgba(150,145,110,0.45)" stroke-width="0.7" />
<line x1="148.18" y1="256.60" x2="178.38" y2="256.60" stroke="rgba(150,145,110,0.45)" stroke-width="0.7" />
<line x1="148.18" y1="266.60" x2="178.38" y2="266.60" stroke="rgba(150,145,110,0.45)" stroke-width="0.7" />
<line x1="148.18" y1="276.60" x2="178.38" y2="276.60" stroke="rgba(150,145,110,0.45)" stroke-width="0.7" />
<line x1="148.18" y1="286.60" x2="178.38" y2="286.60" stroke="rgba(150,145,110,0.45)" stroke-width="0.7" />
<line x1="148.18" y1="296.60" x2="178.38" y2="296.60" stroke="rgba(150,145,110,0.45)" stroke-width="0.7" />
<line x1="148.18" y1="306.60" x2="178.38" y2="306.60" stroke="rgba(150,145,110,0.45)" stroke-width="0.7" />
<rect x="181.46" y="146.60" width="10.67" height="10.60" fill="#fcf8cf" />
<rect x="191.53" y="146.60" width="10.67" height="10.60" fill="#e7e5f2" />
<rect x="201.59" y="146.60" width="10.07" height="10.60" fill="#bfc0db" />
<rect x="181.46" y="156.60" width="10.67" height="10.60" fill="#fcf8ca" />
<rect x="191.53" y="156.60" width="10.67" height="10.60" fill="#fcf8cf" />
<rect x="201.59" y="156.60" width="10.07" height="10.60" fill="#e2e1ef" />
<rect x="181.46" y="166.60" width="10.67" height="10.60" fill="#fcf6bd" />
<rect x="191.53" y="166.60" width="10.67" height="10.60" fill="#ebe8f5" />
<rect x="201.59" y="166.60" width="10.07" height="10.60" fill="#8f94c2" />
<rect x="181.46" y="176.60" width="10.67" height="10.60" fill="#faee77" />
<rect x="191.53" y="176.60" width="10.67" height="10.60" fill="#ebebf5" />
<rect x="201.59" y="176.60" width="10.07" height="10.60" fill="#545452" />
<rect x="181.46" y="186.60" width="10.67" height="10.60" fill="#7b81b6" />
<rect x="191.53" y="186.60" width="10.67" height="10.60" fill="#545452" />
<rect x="201.59" y="186.60" width="10.07" height="10.60" fill="#6c72af" />
<rect x="181.46" y="196.60" width="10.67" height="10.60" fill="#c9cae1" />
<rect x="191.53" y="196.60" width="10.67" height="10.60" fill="#d8d7ea" />
<rect x="201.59" y="196.60" width="10.07" height="10.60" fill="#acb0cf" />
<rect x="181.46" y="206.60" width="10.67" height="10.60" fill="#858bbc" />
<rect x="191.53" y="206.60" width="10.67" height="10.60" fill="#999ec8" />
<rect x="201.59" y="206.60" width="10.07" height="10.60" fill="#8f94c2" />
<rect x="181.46" y="216.60" width="10.67" height="10.60" fill="#fcf6bd" />
<rect x="191.53" y="216.60" width="10.67" height="10.60" fill="#e2e1ef" />
<rect x="201.59" y="216.60" width="10.07" height="10.60" fill="#bfc0db" />
<rect x="181.46" y="226.60" width="10.67" height="10.60" fill="#fae842" />
<rect x="191.53" y="226.60" width="10.67" height="10.60" fill="#dddeed" />
<rect x="201.59" y="226.60" width="10.07" height="10.60" fill="#8086bb" />
<rect x="181.46" y="236.60" width="10.67" height="10.60" fill="#545452" />
<rect x="191.53" y="236.60" width="10.67" height="10.60" fill="#545452" />
<rect x="201.59" y="236.60" width="10.07" height="10.60" fill="#545452" />
<rect x="181.46" y="246.60" width="10.67" height="10.60" fill="#e2e1ed" />
<rect x="191.53" y="246.60" width="10.67" height="10.60" fill="#d3d4e7" />
<rect x="201.59" y="246.60" width="10.07" height="10.60" fill="#999ec8" />
<rect x="181.46" y="256.60" width="10.67" height="10.60" fill="#ffffff" />
<rect x="191.53" y="256.60" width="10.67" height="10.60" fill="#b1b4d4" />
<rect x="201.59" y="256.60" width="10.07" height="10.60" fill="#8f94c2" />
<rect x="181.46" y="266.60" width="10.67" height="10.60" fill="#858bbc" />
<rect x="191.53" y="266.60" width="10.67" height="10.60" fill="#858bbc" />
<rect x="201.59" y="266.60" width="10.07" height="10.60" fill="#7b81ba" />
<rect x="181.46" y="276.60" width="10.67" height="10.60" fill="#faef7f" />
<rect x="191.53" y="276.60" width="10.67" height="10.60" fill="#faee77" />
<rect x="201.59" y="276.60" width="10.07" height="10.60" fill="#f0f0f8" />
<rect x="181.46" y="286.60" width="10.67" height="10.60" fill="#fcf6bd" />
<rect x="191.53" y="286.60" width="10.67" height="10.60" fill="#fcf6bd" />
<rect x="201.59" y="286.60" width="10.07" height="10.60" fill="#fcfae0" />
<rect x="181.46" y="296.60" width="10.67" height="10.60" fill="#999ec8" />
<rect x="191.53" y="296.60" width="10.67" height="10.60" fill="#8f94c2" />
<rect x="201.59" y="296.60" width="10.07" height="10.60" fill="#fcfbe9" />
<rect x="181.46" y="306.60" width="10.67" height="10.00" fill="#fcfcf5" />
<rect x="191.53" y="306.60" width="10.67" height="10.00" fill="#fafafa" />
<rect x="201.59" y="306.60" width="10.07" height="10.00" fill="#fcfcf5" />
<line x1="191.53" y1="146.60" x2="191.53" y2="316.60" stroke="rgba(150,145,110,0.45)" stroke-width="0.7" />
<line x1="201.59" y1="146.60" x2="201.59" y2="316.60" stroke="rgba(150,145,110,0.45)" stroke-width="0.7" />
<line x1="181.46" y1="156.60" x2="211.66" y2="156.60" stroke="rgba(150,145,110,0.45)" stroke-width="0.7" />
<line x1="181.46" y1="166.60" x2="211.66" y2="166.60" stroke="rgba(150,145,110,0.45)" stroke-width="0.7" />
<line x1="181.46" y1="176.60" x2="211.66" y2="176.60" stroke="rgba(150,145,110,0.45)" stroke-width="0.7" />
<line x1="181.46" y1="186.60" x2="211.66" y2="186.60" stroke="rgba(150,145,110,0.45)" stroke-width="0.7" />
<line x1="181.46" y1="196.60" x2="211.66" y2="196.60" stroke="rgba(150,145,110,0.45)" stroke-width="0.7" />
<line x1="181.46" y1="206.60" x2="211.66" y2="206.60" stroke="rgba(150,145,110,0.45)" stroke-width="0.7" />
<line x1="181.46" y1="216.60" x2="211.66" y2="216.60" stroke="rgba(150,145,110,0.45)" stroke-width="0.7" />
<line x1="181.46" y1="226.60" x2="211.66" y2="226.60" stroke="rgba(150,145,110,0.45)" stroke-width="0.7" />
<line x1="181.46" y1="236.60" x2="211.66" y2="236.60" stroke="rgba(150,145,110,0.45)" stroke-width="0.7" />
<line x1="181.46" y1="246.60" x2="211.66" y2="246.60" stroke="rgba(150,145,110,0.45)" stroke-width="0.7" />
<line x1="181.46" y1="256.60" x2="211.66" y2="256.60" stroke="rgba(150,145,110,0.45)" stroke-width="0.7" />
<line x1="181.46" y1="266.60" x2="211.66" y2="266.60" stroke="rgba(150,145,110,0.45)" stroke-width="0.7" />
<line x1="181.46" y1="276.60" x2="211.66" y2="276.60" stroke="rgba(150,145,110,0.45)" stroke-width="0.7" />
<line x1="181.46" y1="286.60" x2="211.66" y2="286.60" stroke="rgba(150,145,110,0.45)" stroke-width="0.7" />
<line x1="181.46" y1="296.60" x2="211.66" y2="296.60" stroke="rgba(150,145,110,0.45)" stroke-width="0.7" />
<line x1="181.46" y1="306.60" x2="211.66" y2="306.60" stroke="rgba(150,145,110,0.45)" stroke-width="0.7" />
<rect x="214.74" y="146.60" width="10.67" height="10.60" fill="#fcf5b4" />
<rect x="224.81" y="146.60" width="10.67" height="10.60" fill="#999ec8" />
<rect x="234.87" y="146.60" width="10.07" height="10.60" fill="#545452" />
<rect x="214.74" y="156.60" width="10.67" height="10.60" fill="#fcf6bd" />
<rect x="224.81" y="156.60" width="10.67" height="10.60" fill="#b6b9d5" />
<rect x="234.87" y="156.60" width="10.07" height="10.60" fill="#545452" />
<rect x="214.74" y="166.60" width="10.67" height="10.60" fill="#fcf5b4" />
<rect x="224.81" y="166.60" width="10.67" height="10.60" fill="#b1b4d4" />
<rect x="234.87" y="166.60" width="10.07" height="10.60" fill="#545452" />
<rect x="214.74" y="176.60" width="10.67" height="10.60" fill="#faed65" />
<rect x="224.81" y="176.60" width="10.67" height="10.60" fill="#545452" />
<rect x="234.87" y="176.60" width="10.07" height="10.60" fill="#545452" />
<rect x="214.74" y="186.60" width="10.67" height="10.60" fill="#545452" />
<rect x="224.81" y="186.60" width="10.67" height="10.60" fill="#676daa" />
<rect x="234.87" y="186.60" width="10.07" height="10.60" fill="#545452" />
<rect x="214.74" y="196.60" width="10.67" height="10.60" fill="#e7e5f2" />
<rect x="224.81" y="196.60" width="10.67" height="10.60" fill="#a2a6cb" />
<rect x="234.87" y="196.60" width="10.07" height="10.60" fill="#545452" />
<rect x="214.74" y="206.60" width="10.67" height="10.60" fill="#bbbcda" />
<rect x="224.81" y="206.60" width="10.67" height="10.60" fill="#8086bb" />
<rect x="234.87" y="206.60" width="10.07" height="10.60" fill="#545452" />
<rect x="214.74" y="216.60" width="10.67" height="10.60" fill="#faf191" />
<rect x="224.81" y="216.60" width="10.67" height="10.60" fill="#bfc0db" />
<rect x="234.87" y="216.60" width="10.07" height="10.60" fill="#545452" />
<rect x="214.74" y="226.60" width="10.67" height="10.60" fill="#fcf4a3" />
<rect x="224.81" y="226.60" width="10.67" height="10.60" fill="#8f94c2" />
<rect x="234.87" y="226.60" width="10.07" height="10.60" fill="#545452" />
<rect x="214.74" y="236.60" width="10.67" height="10.60" fill="#535a9a" />
<rect x="224.81" y="236.60" width="10.67" height="10.60" fill="#545452" />
<rect x="234.87" y="236.60" width="10.07" height="10.60" fill="#545452" />
<rect x="214.74" y="246.60" width="10.67" height="10.60" fill="#fcfcfc" />
<rect x="224.81" y="246.60" width="10.67" height="10.60" fill="#8f94c2" />
<rect x="234.87" y="246.60" width="10.07" height="10.60" fill="#545452" />
<rect x="214.74" y="256.60" width="10.67" height="10.60" fill="#e7e5f2" />
<rect x="224.81" y="256.60" width="10.67" height="10.60" fill="#8f94c2" />
<rect x="234.87" y="256.60" width="10.07" height="10.60" fill="#545452" />
<rect x="214.74" y="266.60" width="10.67" height="10.60" fill="#8f94c2" />
<rect x="224.81" y="266.60" width="10.67" height="10.60" fill="#858bbc" />
<rect x="234.87" y="266.60" width="10.07" height="10.60" fill="#545452" />
<rect x="214.74" y="276.60" width="10.67" height="10.60" fill="#faef7f" />
<rect x="224.81" y="276.60" width="10.67" height="10.60" fill="#e2e1ef" />
<rect x="234.87" y="276.60" width="10.07" height="10.60" fill="#545452" />
<rect x="214.74" y="286.60" width="10.67" height="10.60" fill="#faed6e" />
<rect x="224.81" y="286.60" width="10.67" height="10.60" fill="#fcfcfa" />
<rect x="234.87" y="286.60" width="10.07" height="10.60" fill="#545452" />
<rect x="214.74" y="296.60" width="10.67" height="10.60" fill="#faef7f" />
<rect x="224.81" y="296.60" width="10.67" height="10.60" fill="#fcfaeb" />
<rect x="234.87" y="296.60" width="10.07" height="10.60" fill="#545452" />
<rect x="214.74" y="306.60" width="10.67" height="10.00" fill="#fcfaeb" />
<rect x="224.81" y="306.60" width="10.67" height="10.00" fill="#fcfcfa" />
<rect x="234.87" y="306.60" width="10.07" height="10.00" fill="#545452" />
<line x1="224.81" y1="146.60" x2="224.81" y2="316.60" stroke="rgba(150,145,110,0.45)" stroke-width="0.7" />
<line x1="234.87" y1="146.60" x2="234.87" y2="316.60" stroke="rgba(150,145,110,0.45)" stroke-width="0.7" />
<line x1="214.74" y1="156.60" x2="244.94" y2="156.60" stroke="rgba(150,145,110,0.45)" stroke-width="0.7" />
<line x1="214.74" y1="166.60" x2="244.94" y2="166.60" stroke="rgba(150,145,110,0.45)" stroke-width="0.7" />
<line x1="214.74" y1="176.60" x2="244.94" y2="176.60" stroke="rgba(150,145,110,0.45)" stroke-width="0.7" />
<line x1="214.74" y1="186.60" x2="244.94" y2="186.60" stroke="rgba(150,145,110,0.45)" stroke-width="0.7" />
<line x1="214.74" y1="196.60" x2="244.94" y2="196.60" stroke="rgba(150,145,110,0.45)" stroke-width="0.7" />
<line x1="214.74" y1="206.60" x2="244.94" y2="206.60" stroke="rgba(150,145,110,0.45)" stroke-width="0.7" />
<line x1="214.74" y1="216.60" x2="244.94" y2="216.60" stroke="rgba(150,145,110,0.45)" stroke-width="0.7" />
<line x1="214.74" y1="226.60" x2="244.94" y2="226.60" stroke="rgba(150,145,110,0.45)" stroke-width="0.7" />
<line x1="214.74" y1="236.60" x2="244.94" y2="236.60" stroke="rgba(150,145,110,0.45)" stroke-width="0.7" />
<line x1="214.74" y1="246.60" x2="244.94" y2="246.60" stroke="rgba(150,145,110,0.45)" stroke-width="0.7" />
<line x1="214.74" y1="256.60" x2="244.94" y2="256.60" stroke="rgba(150,145,110,0.45)" stroke-width="0.7" />
<line x1="214.74" y1="266.60" x2="244.94" y2="266.60" stroke="rgba(150,145,110,0.45)" stroke-width="0.7" />
<line x1="214.74" y1="276.60" x2="244.94" y2="276.60" stroke="rgba(150,145,110,0.45)" stroke-width="0.7" />
<line x1="214.74" y1="286.60" x2="244.94" y2="286.60" stroke="rgba(150,145,110,0.45)" stroke-width="0.7" />
<line x1="214.74" y1="296.60" x2="244.94" y2="296.60" stroke="rgba(150,145,110,0.45)" stroke-width="0.7" />
<line x1="214.74" y1="306.60" x2="244.94" y2="306.60" stroke="rgba(150,145,110,0.45)" stroke-width="0.7" />
<rect x="248.02" y="146.60" width="10.67" height="10.60" fill="#fcf8c6" />
<rect x="258.09" y="146.60" width="10.67" height="10.60" fill="#545452" />
<rect x="268.15" y="146.60" width="10.07" height="10.60" fill="#545452" />
<rect x="248.02" y="156.60" width="10.67" height="10.60" fill="#fcfbe0" />
<rect x="258.09" y="156.60" width="10.67" height="10.60" fill="#545452" />
<rect x="268.15" y="156.60" width="10.07" height="10.60" fill="#545452" />
<rect x="248.02" y="166.60" width="10.67" height="10.60" fill="#fcfbe5" />
<rect x="258.09" y="166.60" width="10.67" height="10.60" fill="#545452" />
<rect x="268.15" y="166.60" width="10.07" height="10.60" fill="#545452" />
<rect x="248.02" y="176.60" width="10.67" height="10.60" fill="#faef88" />
<rect x="258.09" y="176.60" width="10.67" height="10.60" fill="#545452" />
<rect x="268.15" y="176.60" width="10.07" height="10.60" fill="#545452" />
<rect x="248.02" y="186.60" width="10.67" height="10.60" fill="#676daa" />
<rect x="258.09" y="186.60" width="10.67" height="10.60" fill="#545452" />
<rect x="268.15" y="186.60" width="10.07" height="10.60" fill="#545452" />
<rect x="248.02" y="196.60" width="10.67" height="10.60" fill="#d3d4e7" />
<rect x="258.09" y="196.60" width="10.67" height="10.60" fill="#545452" />
<rect x="268.15" y="196.60" width="10.07" height="10.60" fill="#545452" />
<rect x="248.02" y="206.60" width="10.67" height="10.60" fill="#7b81ba" />
<rect x="258.09" y="206.60" width="10.67" height="10.60" fill="#545452" />
<rect x="268.15" y="206.60" width="10.07" height="10.60" fill="#545452" />
<rect x="248.02" y="216.60" width="10.67" height="10.60" fill="#fcf8c6" />
<rect x="258.09" y="216.60" width="10.67" height="10.60" fill="#545452" />
<rect x="268.15" y="216.60" width="10.07" height="10.60" fill="#545452" />
<rect x="248.02" y="226.60" width="10.67" height="10.60" fill="#fcf6bd" />
<rect x="258.09" y="226.60" width="10.67" height="10.60" fill="#545452" />
<rect x="268.15" y="226.60" width="10.07" height="10.60" fill="#545452" />
<rect x="248.02" y="236.60" width="10.67" height="10.60" fill="#545452" />
<rect x="258.09" y="236.60" width="10.67" height="10.60" fill="#545452" />
<rect x="268.15" y="236.60" width="10.07" height="10.60" fill="#545452" />
<rect x="248.02" y="246.60" width="10.67" height="10.60" fill="#ffffff" />
<rect x="258.09" y="246.60" width="10.67" height="10.60" fill="#545452" />
<rect x="268.15" y="246.60" width="10.07" height="10.60" fill="#545452" />
<rect x="248.02" y="256.60" width="10.67" height="10.60" fill="#cecfe6" />
<rect x="258.09" y="256.60" width="10.67" height="10.60" fill="#545452" />
<rect x="268.15" y="256.60" width="10.07" height="10.60" fill="#545452" />
<rect x="248.02" y="266.60" width="10.67" height="10.60" fill="#858bbc" />
<rect x="258.09" y="266.60" width="10.67" height="10.60" fill="#545452" />
<rect x="268.15" y="266.60" width="10.07" height="10.60" fill="#545452" />
<rect x="248.02" y="276.60" width="10.67" height="10.60" fill="#fcfcf0" />
<rect x="258.09" y="276.60" width="10.67" height="10.60" fill="#545452" />
<rect x="268.15" y="276.60" width="10.07" height="10.60" fill="#545452" />
<rect x="248.02" y="286.60" width="10.67" height="10.60" fill="#fcf8ca" />
<rect x="258.09" y="286.60" width="10.67" height="10.60" fill="#545452" />
<rect x="268.15" y="286.60" width="10.07" height="10.60" fill="#545452" />
<rect x="248.02" y="296.60" width="10.67" height="10.60" fill="#faf4ab" />
<rect x="258.09" y="296.60" width="10.67" height="10.60" fill="#545452" />
<rect x="268.15" y="296.60" width="10.07" height="10.60" fill="#545452" />
<rect x="248.02" y="306.60" width="10.67" height="10.00" fill="#fcfcfa" />
<rect x="258.09" y="306.60" width="10.67" height="10.00" fill="#545452" />
<rect x="268.15" y="306.60" width="10.07" height="10.00" fill="#545452" />
<line x1="258.09" y1="146.60" x2="258.09" y2="316.60" stroke="rgba(150,145,110,0.45)" stroke-width="0.7" />
<line x1="268.15" y1="146.60" x2="268.15" y2="316.60" stroke="rgba(150,145,110,0.45)" stroke-width="0.7" />
<line x1="248.02" y1="156.60" x2="278.22" y2="156.60" stroke="rgba(150,145,110,0.45)" stroke-width="0.7" />
<line x1="248.02" y1="166.60" x2="278.22" y2="166.60" stroke="rgba(150,145,110,0.45)" stroke-width="0.7" />
<line x1="248.02" y1="176.60" x2="278.22" y2="176.60" stroke="rgba(150,145,110,0.45)" stroke-width="0.7" />
<line x1="248.02" y1="186.60" x2="278.22" y2="186.60" stroke="rgba(150,145,110,0.45)" stroke-width="0.7" />
<line x1="248.02" y1="196.60" x2="278.22" y2="196.60" stroke="rgba(150,145,110,0.45)" stroke-width="0.7" />
<line x1="248.02" y1="206.60" x2="278.22" y2="206.60" stroke="rgba(150,145,110,0.45)" stroke-width="0.7" />
<line x1="248.02" y1="216.60" x2="278.22" y2="216.60" stroke="rgba(150,145,110,0.45)" stroke-width="0.7" />
<line x1="248.02" y1="226.60" x2="278.22" y2="226.60" stroke="rgba(150,145,110,0.45)" stroke-width="0.7" />
<line x1="248.02" y1="236.60" x2="278.22" y2="236.60" stroke="rgba(150,145,110,0.45)" stroke-width="0.7" />
<line x1="248.02" y1="246.60" x2="278.22" y2="246.60" stroke="rgba(150,145,110,0.45)" stroke-width="0.7" />
<line x1="248.02" y1="256.60" x2="278.22" y2="256.60" stroke="rgba(150,145,110,0.45)" stroke-width="0.7" />
<line x1="248.02" y1="266.60" x2="278.22" y2="266.60" stroke="rgba(150,145,110,0.45)" stroke-width="0.7" />
<line x1="248.02" y1="276.60" x2="278.22" y2="276.60" stroke="rgba(150,145,110,0.45)" stroke-width="0.7" />
<line x1="248.02" y1="286.60" x2="278.22" y2="286.60" stroke="rgba(150,145,110,0.45)" stroke-width="0.7" />
<line x1="248.02" y1="296.60" x2="278.22" y2="296.60" stroke="rgba(150,145,110,0.45)" stroke-width="0.7" />
<line x1="248.02" y1="306.60" x2="278.22" y2="306.60" stroke="rgba(150,145,110,0.45)" stroke-width="0.7" />
<rect x="281.30" y="146.60" width="10.67" height="10.60" fill="#fcfad7" />
<rect x="291.37" y="146.60" width="10.67" height="10.60" fill="#545452" />
<rect x="301.43" y="146.60" width="10.07" height="10.60" fill="#545452" />
<rect x="281.30" y="156.60" width="10.67" height="10.60" fill="#ffffff" />
<rect x="291.37" y="156.60" width="10.67" height="10.60" fill="#545452" />
<rect x="301.43" y="156.60" width="10.07" height="10.60" fill="#545452" />
<rect x="281.30" y="166.60" width="10.67" height="10.60" fill="#ffffff" />
<rect x="291.37" y="166.60" width="10.67" height="10.60" fill="#545452" />
<rect x="301.43" y="166.60" width="10.07" height="10.60" fill="#545452" />
<rect x="281.30" y="176.60" width="10.67" height="10.60" fill="#fcf8cf" />
<rect x="291.37" y="176.60" width="10.67" height="10.60" fill="#545452" />
<rect x="301.43" y="176.60" width="10.07" height="10.60" fill="#545452" />
<rect x="281.30" y="186.60" width="10.67" height="10.60" fill="#676daa" />
<rect x="291.37" y="186.60" width="10.67" height="10.60" fill="#545452" />
<rect x="301.43" y="186.60" width="10.07" height="10.60" fill="#545452" />
<rect x="281.30" y="196.60" width="10.67" height="10.60" fill="#cecfe6" />
<rect x="291.37" y="196.60" width="10.67" height="10.60" fill="#545452" />
<rect x="301.43" y="196.60" width="10.07" height="10.60" fill="#545452" />
<rect x="281.30" y="206.60" width="10.67" height="10.60" fill="#b1b4d4" />
<rect x="291.37" y="206.60" width="10.67" height="10.60" fill="#545452" />
<rect x="301.43" y="206.60" width="10.07" height="10.60" fill="#545452" />
<rect x="281.30" y="216.60" width="10.67" height="10.60" fill="#ffffff" />
<rect x="291.37" y="216.60" width="10.67" height="10.60" fill="#545452" />
<rect x="301.43" y="216.60" width="10.07" height="10.60" fill="#545452" />
<rect x="281.30" y="226.60" width="10.67" height="10.60" fill="#fcf8cf" />
<rect x="291.37" y="226.60" width="10.67" height="10.60" fill="#545452" />
<rect x="301.43" y="226.60" width="10.07" height="10.60" fill="#545452" />
<rect x="281.30" y="236.60" width="10.67" height="10.60" fill="#676daa" />
<rect x="291.37" y="236.60" width="10.67" height="10.60" fill="#545452" />
<rect x="301.43" y="236.60" width="10.07" height="10.60" fill="#545452" />
<rect x="281.30" y="246.60" width="10.67" height="10.60" fill="#e2e1ef" />
<rect x="291.37" y="246.60" width="10.67" height="10.60" fill="#545452" />
<rect x="301.43" y="246.60" width="10.07" height="10.60" fill="#545452" />
<rect x="281.30" y="256.60" width="10.67" height="10.60" fill="#a2a6cb" />
<rect x="291.37" y="256.60" width="10.67" height="10.60" fill="#545452" />
<rect x="301.43" y="256.60" width="10.07" height="10.60" fill="#545452" />
<rect x="281.30" y="266.60" width="10.67" height="10.60" fill="#999ec8" />
<rect x="291.37" y="266.60" width="10.67" height="10.60" fill="#545452" />
<rect x="301.43" y="266.60" width="10.07" height="10.60" fill="#545452" />
<rect x="281.30" y="276.60" width="10.67" height="10.60" fill="#ffffff" />
<rect x="291.37" y="276.60" width="10.67" height="10.60" fill="#545452" />
<rect x="301.43" y="276.60" width="10.07" height="10.60" fill="#545452" />
<rect x="281.30" y="286.60" width="10.67" height="10.60" fill="#faf4b4" />
<rect x="291.37" y="286.60" width="10.67" height="10.60" fill="#545452" />
<rect x="301.43" y="286.60" width="10.07" height="10.60" fill="#545452" />
<rect x="281.30" y="296.60" width="10.67" height="10.60" fill="#faf4ab" />
<rect x="291.37" y="296.60" width="10.67" height="10.60" fill="#545452" />
<rect x="301.43" y="296.60" width="10.07" height="10.60" fill="#545452" />
<rect x="281.30" y="306.60" width="10.67" height="10.00" fill="#fafafc" />
<rect x="291.37" y="306.60" width="10.67" height="10.00" fill="#545452" />
<rect x="301.43" y="306.60" width="10.07" height="10.00" fill="#545452" />
<line x1="291.37" y1="146.60" x2="291.37" y2="316.60" stroke="rgba(150,145,110,0.45)" stroke-width="0.7" />
<line x1="301.43" y1="146.60" x2="301.43" y2="316.60" stroke="rgba(150,145,110,0.45)" stroke-width="0.7" />
<line x1="281.30" y1="156.60" x2="311.50" y2="156.60" stroke="rgba(150,145,110,0.45)" stroke-width="0.7" />
<line x1="281.30" y1="166.60" x2="311.50" y2="166.60" stroke="rgba(150,145,110,0.45)" stroke-width="0.7" />
<line x1="281.30" y1="176.60" x2="311.50" y2="176.60" stroke="rgba(150,145,110,0.45)" stroke-width="0.7" />
<line x1="281.30" y1="186.60" x2="311.50" y2="186.60" stroke="rgba(150,145,110,0.45)" stroke-width="0.7" />
<line x1="281.30" y1="196.60" x2="311.50" y2="196.60" stroke="rgba(150,145,110,0.45)" stroke-width="0.7" />
<line x1="281.30" y1="206.60" x2="311.50" y2="206.60" stroke="rgba(150,145,110,0.45)" stroke-width="0.7" />
<line x1="281.30" y1="216.60" x2="311.50" y2="216.60" stroke="rgba(150,145,110,0.45)" stroke-width="0.7" />
<line x1="281.30" y1="226.60" x2="311.50" y2="226.60" stroke="rgba(150,145,110,0.45)" stroke-width="0.7" />
<line x1="281.30" y1="236.60" x2="311.50" y2="236.60" stroke="rgba(150,145,110,0.45)" stroke-width="0.7" />
<line x1="281.30" y1="246.60" x2="311.50" y2="246.60" stroke="rgba(150,145,110,0.45)" stroke-width="0.7" />
<line x1="281.30" y1="256.60" x2="311.50" y2="256.60" stroke="rgba(150,145,110,0.45)" stroke-width="0.7" />
<line x1="281.30" y1="266.60" x2="311.50" y2="266.60" stroke="rgba(150,145,110,0.45)" stroke-width="0.7" />
<line x1="281.30" y1="276.60" x2="311.50" y2="276.60" stroke="rgba(150,145,110,0.45)" stroke-width="0.7" />
<line x1="281.30" y1="286.60" x2="311.50" y2="286.60" stroke="rgba(150,145,110,0.45)" stroke-width="0.7" />
<line x1="281.30" y1="296.60" x2="311.50" y2="296.60" stroke="rgba(150,145,110,0.45)" stroke-width="0.7" />
<line x1="281.30" y1="306.60" x2="311.50" y2="306.60" stroke="rgba(150,145,110,0.45)" stroke-width="0.7" />
<rect x="114.50" y="146.60" width="197.80" height="170.00" fill="none" stroke="#1e1e1e" stroke-width="1.5" />
<text x="0" y="0" font-size="8.26" transform="translate(124.80 143.60) scale(0.840 1)" text-anchor="middle" >1</text>
<text x="0" y="0" font-size="8.26" transform="translate(158.60 143.60) scale(0.840 1)" text-anchor="middle" >3</text>
<text x="0" y="0" font-size="8.26" transform="translate(192.40 143.60) scale(0.840 1)" text-anchor="middle" >5</text>
<text x="0" y="0" font-size="8.26" transform="translate(225.60 143.60) scale(0.840 1)" text-anchor="middle" >7</text>
<text x="0" y="0" font-size="8.26" transform="translate(259.50 143.60) scale(0.840 1)" text-anchor="middle" >9</text>
<text x="0" y="0" font-size="8.26" transform="translate(293.40 143.60) scale(0.840 1)" text-anchor="middle" >11</text>
<text x="181.3" y="129.3" font-size="9.86" textLength="46.37" lengthAdjust="spacingAndGlyphs" transform="translate(181.30 129.30) scale(0.8929 1) translate(-181.30 -129.30)">CD7-CAR</text>
<text x="223.2" y="126.3" font-size="6.94" textLength="21.84" lengthAdjust="spacingAndGlyphs" transform="translate(223.20 126.30) scale(0.8929 1) translate(-223.20 -126.30)">CD7−</text>
<line x1="124.00" y1="128.30" x2="172.70" y2="128.30" stroke="#231f20" stroke-width="1" />
<line x1="251.50" y1="128.30" x2="295.80" y2="128.30" stroke="#231f20" stroke-width="1" />
<rect x="321.20" y="145.80" width="12.40" height="64.80" fill="url(#gB)" stroke="#1e1e1e" stroke-width="1.2" />
<text x="0" y="0" font-size="8.97" transform="translate(337.00 149.30) scale(0.840 1)" >6</text>
<line x1="321.20" y1="164.60" x2="323.20" y2="164.60" stroke="#1e1e1e" stroke-width="0.9" />
<line x1="331.60" y1="164.60" x2="333.60" y2="164.60" stroke="#1e1e1e" stroke-width="0.9" />
<text x="0" y="0" font-size="8.97" transform="translate(337.00 167.30) scale(0.840 1)" >4</text>
<line x1="321.20" y1="182.50" x2="323.20" y2="182.50" stroke="#1e1e1e" stroke-width="0.9" />
<line x1="331.60" y1="182.50" x2="333.60" y2="182.50" stroke="#1e1e1e" stroke-width="0.9" />
<text x="0" y="0" font-size="8.97" transform="translate(337.00 185.20) scale(0.840 1)" >2</text>
<line x1="321.20" y1="201.50" x2="323.20" y2="201.50" stroke="#1e1e1e" stroke-width="0.9" />
<line x1="331.60" y1="201.50" x2="333.60" y2="201.50" stroke="#1e1e1e" stroke-width="0.9" />
<text x="0" y="0" font-size="8.97" transform="translate(337.00 204.20) scale(0.840 1)" >0</text>
<g transform="translate(350.5 178.4) rotate(90)"><text x="0" y="2.6" font-size="8.51" text-anchor="middle" textLength="68.32" lengthAdjust="spacingAndGlyphs" transform="translate(0.00 2.60) scale(0.8929 1) translate(-0.00 -2.60)">Log<tspan dy="1.79" font-size="6.27">10</tspan><tspan dy="-1.79"> (pg/mL)</tspan></text></g>
<text transform="translate(384.64 214.60) scale(0.877 1)" font-size="11.51" font-weight="bold" style="fill:#000;stroke:#000;stroke-width:0.45px">C</text>
<text x="417.70" y="221.60" font-size="10.08" textLength="28.11" lengthAdjust="spacingAndGlyphs"  transform="translate(417.70 221.60) scale(0.8929 1) translate(-417.70 -221.60)">CCRF</text>
<text x="417.0" y="233.2" font-size="10.08" textLength="23.97" lengthAdjust="spacing" transform="translate(417.00 233.20) scale(0.8929 1) translate(-417.00 -233.20)">1×10</text>
<text x="439.6" y="229.6" font-size="7.17" transform="translate(439.60 229.60) scale(0.8929 1) translate(-439.60 -229.60)">4</text>
<text x="457.3" y="221.6" font-size="10.08" textLength="49.28" lengthAdjust="spacingAndGlyphs" transform="translate(457.30 221.60) scale(0.8929 1) translate(-457.30 -221.60)">CD7-CAR</text>
<text x="501.6" y="218.2" font-size="7.17" transform="translate(501.60 218.20) scale(0.8929 1) translate(-501.60 -218.20)">CD7−</text>
<text x="474.30" y="233.20" font-size="10.08" textLength="31.02" lengthAdjust="spacingAndGlyphs"  transform="translate(474.30 233.20) scale(0.8929 1) translate(-474.30 -233.20)">T cells</text>
<line x1="420.30" y1="241.40" x2="515.50" y2="241.40" stroke="#231f20" stroke-width="1.2" />
<line x1="429.80" y1="241.40" x2="429.80" y2="244.20" stroke="#231f20" stroke-width="1" />
<line x1="487.60" y1="241.40" x2="487.60" y2="244.20" stroke="#231f20" stroke-width="1" />
<text x="400.80" y="254.00" font-size="9.86" textLength="18.03" lengthAdjust="spacingAndGlyphs"  transform="translate(400.80 254.00) scale(0.8929 1) translate(-400.80 -254.00)">Day</text>
<text x="0" y="0" font-size="8.97" transform="translate(430.00 254.00) scale(0.840 1)" text-anchor="middle" >0</text>
<text x="0" y="0" font-size="8.97" transform="translate(487.60 254.00) scale(0.840 1)" text-anchor="middle" >7</text>
<text transform="translate(0.41 346.00) scale(1.115 1)" font-size="11.26" font-weight="bold" style="fill:#000;stroke:#000;stroke-width:0.45px">D</text>
<line x1="36.00" y1="355.30" x2="36.00" y2="425.78" stroke="#231f20" stroke-width="1.4" />
<line x1="32.40" y1="359.30" x2="36.00" y2="359.30" stroke="#111" stroke-width="1.1" />
<line x1="32.40" y1="370.38" x2="36.00" y2="370.38" stroke="#111" stroke-width="1.1" />
<line x1="32.40" y1="381.46" x2="36.00" y2="381.46" stroke="#111" stroke-width="1.1" />
<line x1="32.40" y1="392.54" x2="36.00" y2="392.54" stroke="#111" stroke-width="1.1" />
<line x1="32.40" y1="403.62" x2="36.00" y2="403.62" stroke="#111" stroke-width="1.1" />
<line x1="32.40" y1="414.70" x2="36.00" y2="414.70" stroke="#111" stroke-width="1.1" />
<line x1="32.40" y1="425.78" x2="36.00" y2="425.78" stroke="#111" stroke-width="1.1" />
<line x1="33.60" y1="367.04" x2="36.00" y2="367.04" stroke="#111" stroke-width="1.1" />
<line x1="33.60" y1="365.09" x2="36.00" y2="365.09" stroke="#111" stroke-width="1.1" />
<line x1="33.60" y1="363.71" x2="36.00" y2="363.71" stroke="#111" stroke-width="1.1" />
<line x1="33.60" y1="362.64" x2="36.00" y2="362.64" stroke="#111" stroke-width="1.1" />
<line x1="33.60" y1="361.76" x2="36.00" y2="361.76" stroke="#111" stroke-width="1.1" />
<line x1="33.60" y1="361.02" x2="36.00" y2="361.02" stroke="#111" stroke-width="1.1" />
<line x1="33.60" y1="360.37" x2="36.00" y2="360.37" stroke="#111" stroke-width="1.1" />
<line x1="33.60" y1="359.81" x2="36.00" y2="359.81" stroke="#111" stroke-width="1.1" />
<line x1="33.60" y1="378.12" x2="36.00" y2="378.12" stroke="#111" stroke-width="1.1" />
<line x1="33.60" y1="376.17" x2="36.00" y2="376.17" stroke="#111" stroke-width="1.1" />
<line x1="33.60" y1="374.79" x2="36.00" y2="374.79" stroke="#111" stroke-width="1.1" />
<line x1="33.60" y1="373.72" x2="36.00" y2="373.72" stroke="#111" stroke-width="1.1" />
<line x1="33.60" y1="372.84" x2="36.00" y2="372.84" stroke="#111" stroke-width="1.1" />
<line x1="33.60" y1="372.10" x2="36.00" y2="372.10" stroke="#111" stroke-width="1.1" />
<line x1="33.60" y1="371.45" x2="36.00" y2="371.45" stroke="#111" stroke-width="1.1" />
<line x1="33.60" y1="370.89" x2="36.00" y2="370.89" stroke="#111" stroke-width="1.1" />
<line x1="33.60" y1="389.20" x2="36.00" y2="389.20" stroke="#111" stroke-width="1.1" />
<line x1="33.60" y1="387.25" x2="36.00" y2="387.25" stroke="#111" stroke-width="1.1" />
<line x1="33.60" y1="385.87" x2="36.00" y2="385.87" stroke="#111" stroke-width="1.1" />
<line x1="33.60" y1="384.80" x2="36.00" y2="384.80" stroke="#111" stroke-width="1.1" />
<line x1="33.60" y1="383.92" x2="36.00" y2="383.92" stroke="#111" stroke-width="1.1" />
<line x1="33.60" y1="383.18" x2="36.00" y2="383.18" stroke="#111" stroke-width="1.1" />
<line x1="33.60" y1="382.53" x2="36.00" y2="382.53" stroke="#111" stroke-width="1.1" />
<line x1="33.60" y1="381.97" x2="36.00" y2="381.97" stroke="#111" stroke-width="1.1" />
<line x1="33.60" y1="400.28" x2="36.00" y2="400.28" stroke="#111" stroke-width="1.1" />
<line x1="33.60" y1="398.33" x2="36.00" y2="398.33" stroke="#111" stroke-width="1.1" />
<line x1="33.60" y1="396.95" x2="36.00" y2="396.95" stroke="#111" stroke-width="1.1" />
<line x1="33.60" y1="395.88" x2="36.00" y2="395.88" stroke="#111" stroke-width="1.1" />
<line x1="33.60" y1="395.00" x2="36.00" y2="395.00" stroke="#111" stroke-width="1.1" />
<line x1="33.60" y1="394.26" x2="36.00" y2="394.26" stroke="#111" stroke-width="1.1" />
<line x1="33.60" y1="393.61" x2="36.00" y2="393.61" stroke="#111" stroke-width="1.1" />
<line x1="33.60" y1="393.05" x2="36.00" y2="393.05" stroke="#111" stroke-width="1.1" />
<line x1="33.60" y1="411.36" x2="36.00" y2="411.36" stroke="#111" stroke-width="1.1" />
<line x1="33.60" y1="409.41" x2="36.00" y2="409.41" stroke="#111" stroke-width="1.1" />
<line x1="33.60" y1="408.03" x2="36.00" y2="408.03" stroke="#111" stroke-width="1.1" />
<line x1="33.60" y1="406.96" x2="36.00" y2="406.96" stroke="#111" stroke-width="1.1" />
<line x1="33.60" y1="406.08" x2="36.00" y2="406.08" stroke="#111" stroke-width="1.1" />
<line x1="33.60" y1="405.34" x2="36.00" y2="405.34" stroke="#111" stroke-width="1.1" />
<line x1="33.60" y1="404.69" x2="36.00" y2="404.69" stroke="#111" stroke-width="1.1" />
<line x1="33.60" y1="404.13" x2="36.00" y2="404.13" stroke="#111" stroke-width="1.1" />
<line x1="33.60" y1="422.44" x2="36.00" y2="422.44" stroke="#111" stroke-width="1.1" />
<line x1="33.60" y1="420.49" x2="36.00" y2="420.49" stroke="#111" stroke-width="1.1" />
<line x1="33.60" y1="419.11" x2="36.00" y2="419.11" stroke="#111" stroke-width="1.1" />
<line x1="33.60" y1="418.04" x2="36.00" y2="418.04" stroke="#111" stroke-width="1.1" />
<line x1="33.60" y1="417.16" x2="36.00" y2="417.16" stroke="#111" stroke-width="1.1" />
<line x1="33.60" y1="416.42" x2="36.00" y2="416.42" stroke="#111" stroke-width="1.1" />
<line x1="33.60" y1="415.77" x2="36.00" y2="415.77" stroke="#111" stroke-width="1.1" />
<line x1="33.60" y1="415.21" x2="36.00" y2="415.21" stroke="#111" stroke-width="1.1" />
<line x1="35.30" y1="425.80" x2="102.30" y2="425.80" stroke="#231f20" stroke-width="1.4" />
<line x1="36.20" y1="425.80" x2="36.20" y2="429.00" stroke="#231f20" stroke-width="1" />
<text x="0" y="0" font-size="9.44" transform="translate(36.20 438.20) scale(0.840 1)" text-anchor="middle" >0</text>
<line x1="52.15" y1="425.80" x2="52.15" y2="429.00" stroke="#231f20" stroke-width="1" />
<text x="0" y="0" font-size="9.44" transform="translate(52.15 438.20) scale(0.840 1)" text-anchor="middle" >30</text>
<line x1="68.10" y1="425.80" x2="68.10" y2="429.00" stroke="#231f20" stroke-width="1" />
<text x="0" y="0" font-size="9.44" transform="translate(68.10 438.20) scale(0.840 1)" text-anchor="middle" >60</text>
<line x1="84.05" y1="425.80" x2="84.05" y2="429.00" stroke="#231f20" stroke-width="1" />
<text x="0" y="0" font-size="9.44" transform="translate(84.05 438.20) scale(0.840 1)" text-anchor="middle" >90</text>
<line x1="100.00" y1="425.80" x2="100.00" y2="429.00" stroke="#231f20" stroke-width="1" />
<text x="0" y="0" font-size="9.44" transform="translate(100.00 438.20) scale(0.840 1)" text-anchor="middle" >120</text>
<text x="29.30" y="362.20" font-size="9.18" text-anchor="end" transform="translate(29.30 362.20) scale(0.8929 1) translate(-29.30 -362.20)">10<tspan dy="-3.81" font-size="6.05">11</tspan></text>
<text x="29.30" y="373.28" font-size="9.18" text-anchor="end" transform="translate(29.30 373.28) scale(0.8929 1) translate(-29.30 -373.28)">10<tspan dy="-3.81" font-size="6.05">10</tspan></text>
<text x="29.30" y="384.36" font-size="9.18" text-anchor="end" transform="translate(29.30 384.36) scale(0.8929 1) translate(-29.30 -384.36)">10<tspan dy="-3.81" font-size="6.05">9</tspan></text>
<text x="29.30" y="395.44" font-size="9.18" text-anchor="end" transform="translate(29.30 395.44) scale(0.8929 1) translate(-29.30 -395.44)">10<tspan dy="-3.81" font-size="6.05">8</tspan></text>
<text x="29.30" y="406.52" font-size="9.18" text-anchor="end" transform="translate(29.30 406.52) scale(0.8929 1) translate(-29.30 -406.52)">10<tspan dy="-3.81" font-size="6.05">7</tspan></text>
<text x="29.30" y="417.60" font-size="9.18" text-anchor="end" transform="translate(29.30 417.60) scale(0.8929 1) translate(-29.30 -417.60)">10<tspan dy="-3.81" font-size="6.05">6</tspan></text>
<text x="29.30" y="428.68" font-size="9.18" text-anchor="end" transform="translate(29.30 428.68) scale(0.8929 1) translate(-29.30 -428.68)">10<tspan dy="-3.81" font-size="6.05">5</tspan></text>
<g transform="translate(4.40 390.90) rotate(-90)"><text x="0" y="2.94" font-size="9.41" text-anchor="middle" textLength="88.26" lengthAdjust="spacingAndGlyphs" transform="translate(0.00 2.94) scale(0.8929 1) translate(-0.00 -2.94)">Total flux (photons/sec)</text></g>
<text x="26.20" y="450.20" font-size="9.52" textLength="96.10" lengthAdjust="spacingAndGlyphs"  transform="translate(26.20 450.20) scale(0.8929 1) translate(-26.20 -450.20)">Days post tumor injection</text>
<line x1="146.60" y1="355.30" x2="146.60" y2="425.78" stroke="#231f20" stroke-width="1.4" />
<line x1="143.00" y1="359.30" x2="146.60" y2="359.30" stroke="#111" stroke-width="1.1" />
<line x1="143.00" y1="370.38" x2="146.60" y2="370.38" stroke="#111" stroke-width="1.1" />
<line x1="143.00" y1="381.46" x2="146.60" y2="381.46" stroke="#111" stroke-width="1.1" />
<line x1="143.00" y1="392.54" x2="146.60" y2="392.54" stroke="#111" stroke-width="1.1" />
<line x1="143.00" y1="403.62" x2="146.60" y2="403.62" stroke="#111" stroke-width="1.1" />
<line x1="143.00" y1="414.70" x2="146.60" y2="414.70" stroke="#111" stroke-width="1.1" />
<line x1="143.00" y1="425.78" x2="146.60" y2="425.78" stroke="#111" stroke-width="1.1" />
<line x1="144.20" y1="367.04" x2="146.60" y2="367.04" stroke="#111" stroke-width="1.1" />
<line x1="144.20" y1="365.09" x2="146.60" y2="365.09" stroke="#111" stroke-width="1.1" />
<line x1="144.20" y1="363.71" x2="146.60" y2="363.71" stroke="#111" stroke-width="1.1" />
<line x1="144.20" y1="362.64" x2="146.60" y2="362.64" stroke="#111" stroke-width="1.1" />
<line x1="144.20" y1="361.76" x2="146.60" y2="361.76" stroke="#111" stroke-width="1.1" />
<line x1="144.20" y1="361.02" x2="146.60" y2="361.02" stroke="#111" stroke-width="1.1" />
<line x1="144.20" y1="360.37" x2="146.60" y2="360.37" stroke="#111" stroke-width="1.1" />
<line x1="144.20" y1="359.81" x2="146.60" y2="359.81" stroke="#111" stroke-width="1.1" />
<line x1="144.20" y1="378.12" x2="146.60" y2="378.12" stroke="#111" stroke-width="1.1" />
<line x1="144.20" y1="376.17" x2="146.60" y2="376.17" stroke="#111" stroke-width="1.1" />
<line x1="144.20" y1="374.79" x2="146.60" y2="374.79" stroke="#111" stroke-width="1.1" />
<line x1="144.20" y1="373.72" x2="146.60" y2="373.72" stroke="#111" stroke-width="1.1" />
<line x1="144.20" y1="372.84" x2="146.60" y2="372.84" stroke="#111" stroke-width="1.1" />
<line x1="144.20" y1="372.10" x2="146.60" y2="372.10" stroke="#111" stroke-width="1.1" />
<line x1="144.20" y1="371.45" x2="146.60" y2="371.45" stroke="#111" stroke-width="1.1" />
<line x1="144.20" y1="370.89" x2="146.60" y2="370.89" stroke="#111" stroke-width="1.1" />
<line x1="144.20" y1="389.20" x2="146.60" y2="389.20" stroke="#111" stroke-width="1.1" />
<line x1="144.20" y1="387.25" x2="146.60" y2="387.25" stroke="#111" stroke-width="1.1" />
<line x1="144.20" y1="385.87" x2="146.60" y2="385.87" stroke="#111" stroke-width="1.1" />
<line x1="144.20" y1="384.80" x2="146.60" y2="384.80" stroke="#111" stroke-width="1.1" />
<line x1="144.20" y1="383.92" x2="146.60" y2="383.92" stroke="#111" stroke-width="1.1" />
<line x1="144.20" y1="383.18" x2="146.60" y2="383.18" stroke="#111" stroke-width="1.1" />
<line x1="144.20" y1="382.53" x2="146.60" y2="382.53" stroke="#111" stroke-width="1.1" />
<line x1="144.20" y1="381.97" x2="146.60" y2="381.97" stroke="#111" stroke-width="1.1" />
<line x1="144.20" y1="400.28" x2="146.60" y2="400.28" stroke="#111" stroke-width="1.1" />
<line x1="144.20" y1="398.33" x2="146.60" y2="398.33" stroke="#111" stroke-width="1.1" />
<line x1="144.20" y1="396.95" x2="146.60" y2="396.95" stroke="#111" stroke-width="1.1" />
<line x1="144.20" y1="395.88" x2="146.60" y2="395.88" stroke="#111" stroke-width="1.1" />
<line x1="144.20" y1="395.00" x2="146.60" y2="395.00" stroke="#111" stroke-width="1.1" />
<line x1="144.20" y1="394.26" x2="146.60" y2="394.26" stroke="#111" stroke-width="1.1" />
<line x1="144.20" y1="393.61" x2="146.60" y2="393.61" stroke="#111" stroke-width="1.1" />
<line x1="144.20" y1="393.05" x2="146.60" y2="393.05" stroke="#111" stroke-width="1.1" />
<line x1="144.20" y1="411.36" x2="146.60" y2="411.36" stroke="#111" stroke-width="1.1" />
<line x1="144.20" y1="409.41" x2="146.60" y2="409.41" stroke="#111" stroke-width="1.1" />
<line x1="144.20" y1="408.03" x2="146.60" y2="408.03" stroke="#111" stroke-width="1.1" />
<line x1="144.20" y1="406.96" x2="146.60" y2="406.96" stroke="#111" stroke-width="1.1" />
<line x1="144.20" y1="406.08" x2="146.60" y2="406.08" stroke="#111" stroke-width="1.1" />
<line x1="144.20" y1="405.34" x2="146.60" y2="405.34" stroke="#111" stroke-width="1.1" />
<line x1="144.20" y1="404.69" x2="146.60" y2="404.69" stroke="#111" stroke-width="1.1" />
<line x1="144.20" y1="404.13" x2="146.60" y2="404.13" stroke="#111" stroke-width="1.1" />
<line x1="144.20" y1="422.44" x2="146.60" y2="422.44" stroke="#111" stroke-width="1.1" />
<line x1="144.20" y1="420.49" x2="146.60" y2="420.49" stroke="#111" stroke-width="1.1" />
<line x1="144.20" y1="419.11" x2="146.60" y2="419.11" stroke="#111" stroke-width="1.1" />
<line x1="144.20" y1="418.04" x2="146.60" y2="418.04" stroke="#111" stroke-width="1.1" />
<line x1="144.20" y1="417.16" x2="146.60" y2="417.16" stroke="#111" stroke-width="1.1" />
<line x1="144.20" y1="416.42" x2="146.60" y2="416.42" stroke="#111" stroke-width="1.1" />
<line x1="144.20" y1="415.77" x2="146.60" y2="415.77" stroke="#111" stroke-width="1.1" />
<line x1="144.20" y1="415.21" x2="146.60" y2="415.21" stroke="#111" stroke-width="1.1" />
<line x1="145.90" y1="425.80" x2="213.80" y2="425.80" stroke="#231f20" stroke-width="1.4" />
<line x1="146.80" y1="425.80" x2="146.80" y2="429.00" stroke="#231f20" stroke-width="1" />
<text x="0" y="0" font-size="9.44" transform="translate(146.80 438.20) scale(0.840 1)" text-anchor="middle" >0</text>
<line x1="162.81" y1="425.80" x2="162.81" y2="429.00" stroke="#231f20" stroke-width="1" />
<text x="0" y="0" font-size="9.44" transform="translate(162.81 438.20) scale(0.840 1)" text-anchor="middle" >30</text>
<line x1="178.82" y1="425.80" x2="178.82" y2="429.00" stroke="#231f20" stroke-width="1" />
<text x="0" y="0" font-size="9.44" transform="translate(178.82 438.20) scale(0.840 1)" text-anchor="middle" >60</text>
<line x1="194.83" y1="425.80" x2="194.83" y2="429.00" stroke="#231f20" stroke-width="1" />
<text x="0" y="0" font-size="9.44" transform="translate(194.83 438.20) scale(0.840 1)" text-anchor="middle" >90</text>
<line x1="210.84" y1="425.80" x2="210.84" y2="429.00" stroke="#231f20" stroke-width="1" />
<text x="0" y="0" font-size="9.44" transform="translate(210.84 438.20) scale(0.840 1)" text-anchor="middle" >120</text>
<text x="139.90" y="362.20" font-size="9.18" text-anchor="end" transform="translate(139.90 362.20) scale(0.8929 1) translate(-139.90 -362.20)">10<tspan dy="-3.81" font-size="6.05">11</tspan></text>
<text x="139.90" y="373.28" font-size="9.18" text-anchor="end" transform="translate(139.90 373.28) scale(0.8929 1) translate(-139.90 -373.28)">10<tspan dy="-3.81" font-size="6.05">10</tspan></text>
<text x="139.90" y="384.36" font-size="9.18" text-anchor="end" transform="translate(139.90 384.36) scale(0.8929 1) translate(-139.90 -384.36)">10<tspan dy="-3.81" font-size="6.05">9</tspan></text>
<text x="139.90" y="395.44" font-size="9.18" text-anchor="end" transform="translate(139.90 395.44) scale(0.8929 1) translate(-139.90 -395.44)">10<tspan dy="-3.81" font-size="6.05">8</tspan></text>
<text x="139.90" y="406.52" font-size="9.18" text-anchor="end" transform="translate(139.90 406.52) scale(0.8929 1) translate(-139.90 -406.52)">10<tspan dy="-3.81" font-size="6.05">7</tspan></text>
<text x="139.90" y="417.60" font-size="9.18" text-anchor="end" transform="translate(139.90 417.60) scale(0.8929 1) translate(-139.90 -417.60)">10<tspan dy="-3.81" font-size="6.05">6</tspan></text>
<text x="139.90" y="428.68" font-size="9.18" text-anchor="end" transform="translate(139.90 428.68) scale(0.8929 1) translate(-139.90 -428.68)">10<tspan dy="-3.81" font-size="6.05">5</tspan></text>
<g transform="translate(115.00 390.90) rotate(-90)"><text x="0" y="2.94" font-size="9.41" text-anchor="middle" textLength="88.26" lengthAdjust="spacingAndGlyphs" transform="translate(0.00 2.94) scale(0.8929 1) translate(-0.00 -2.94)">Total flux (photons/sec)</text></g>
<text x="136.80" y="450.20" font-size="9.52" textLength="96.10" lengthAdjust="spacingAndGlyphs"  transform="translate(136.80 450.20) scale(0.8929 1) translate(-136.80 -450.20)">Days post tumor injection</text>
<line x1="264.30" y1="355.30" x2="264.30" y2="425.78" stroke="#231f20" stroke-width="1.4" />
<line x1="260.70" y1="359.30" x2="264.30" y2="359.30" stroke="#111" stroke-width="1.1" />
<line x1="260.70" y1="370.38" x2="264.30" y2="370.38" stroke="#111" stroke-width="1.1" />
<line x1="260.70" y1="381.46" x2="264.30" y2="381.46" stroke="#111" stroke-width="1.1" />
<line x1="260.70" y1="392.54" x2="264.30" y2="392.54" stroke="#111" stroke-width="1.1" />
<line x1="260.70" y1="403.62" x2="264.30" y2="403.62" stroke="#111" stroke-width="1.1" />
<line x1="260.70" y1="414.70" x2="264.30" y2="414.70" stroke="#111" stroke-width="1.1" />
<line x1="260.70" y1="425.78" x2="264.30" y2="425.78" stroke="#111" stroke-width="1.1" />
<line x1="261.90" y1="367.04" x2="264.30" y2="367.04" stroke="#111" stroke-width="1.1" />
<line x1="261.90" y1="365.09" x2="264.30" y2="365.09" stroke="#111" stroke-width="1.1" />
<line x1="261.90" y1="363.71" x2="264.30" y2="363.71" stroke="#111" stroke-width="1.1" />
<line x1="261.90" y1="362.64" x2="264.30" y2="362.64" stroke="#111" stroke-width="1.1" />
<line x1="261.90" y1="361.76" x2="264.30" y2="361.76" stroke="#111" stroke-width="1.1" />
<line x1="261.90" y1="361.02" x2="264.30" y2="361.02" stroke="#111" stroke-width="1.1" />
<line x1="261.90" y1="360.37" x2="264.30" y2="360.37" stroke="#111" stroke-width="1.1" />
<line x1="261.90" y1="359.81" x2="264.30" y2="359.81" stroke="#111" stroke-width="1.1" />
<line x1="261.90" y1="378.12" x2="264.30" y2="378.12" stroke="#111" stroke-width="1.1" />
<line x1="261.90" y1="376.17" x2="264.30" y2="376.17" stroke="#111" stroke-width="1.1" />
<line x1="261.90" y1="374.79" x2="264.30" y2="374.79" stroke="#111" stroke-width="1.1" />
<line x1="261.90" y1="373.72" x2="264.30" y2="373.72" stroke="#111" stroke-width="1.1" />
<line x1="261.90" y1="372.84" x2="264.30" y2="372.84" stroke="#111" stroke-width="1.1" />
<line x1="261.90" y1="372.10" x2="264.30" y2="372.10" stroke="#111" stroke-width="1.1" />
<line x1="261.90" y1="371.45" x2="264.30" y2="371.45" stroke="#111" stroke-width="1.1" />
<line x1="261.90" y1="370.89" x2="264.30" y2="370.89" stroke="#111" stroke-width="1.1" />
<line x1="261.90" y1="389.20" x2="264.30" y2="389.20" stroke="#111" stroke-width="1.1" />
<line x1="261.90" y1="387.25" x2="264.30" y2="387.25" stroke="#111" stroke-width="1.1" />
<line x1="261.90" y1="385.87" x2="264.30" y2="385.87" stroke="#111" stroke-width="1.1" />
<line x1="261.90" y1="384.80" x2="264.30" y2="384.80" stroke="#111" stroke-width="1.1" />
<line x1="261.90" y1="383.92" x2="264.30" y2="383.92" stroke="#111" stroke-width="1.1" />
<line x1="261.90" y1="383.18" x2="264.30" y2="383.18" stroke="#111" stroke-width="1.1" />
<line x1="261.90" y1="382.53" x2="264.30" y2="382.53" stroke="#111" stroke-width="1.1" />
<line x1="261.90" y1="381.97" x2="264.30" y2="381.97" stroke="#111" stroke-width="1.1" />
<line x1="261.90" y1="400.28" x2="264.30" y2="400.28" stroke="#111" stroke-width="1.1" />
<line x1="261.90" y1="398.33" x2="264.30" y2="398.33" stroke="#111" stroke-width="1.1" />
<line x1="261.90" y1="396.95" x2="264.30" y2="396.95" stroke="#111" stroke-width="1.1" />
<line x1="261.90" y1="395.88" x2="264.30" y2="395.88" stroke="#111" stroke-width="1.1" />
<line x1="261.90" y1="395.00" x2="264.30" y2="395.00" stroke="#111" stroke-width="1.1" />
<line x1="261.90" y1="394.26" x2="264.30" y2="394.26" stroke="#111" stroke-width="1.1" />
<line x1="261.90" y1="393.61" x2="264.30" y2="393.61" stroke="#111" stroke-width="1.1" />
<line x1="261.90" y1="393.05" x2="264.30" y2="393.05" stroke="#111" stroke-width="1.1" />
<line x1="261.90" y1="411.36" x2="264.30" y2="411.36" stroke="#111" stroke-width="1.1" />
<line x1="261.90" y1="409.41" x2="264.30" y2="409.41" stroke="#111" stroke-width="1.1" />
<line x1="261.90" y1="408.03" x2="264.30" y2="408.03" stroke="#111" stroke-width="1.1" />
<line x1="261.90" y1="406.96" x2="264.30" y2="406.96" stroke="#111" stroke-width="1.1" />
<line x1="261.90" y1="406.08" x2="264.30" y2="406.08" stroke="#111" stroke-width="1.1" />
<line x1="261.90" y1="405.34" x2="264.30" y2="405.34" stroke="#111" stroke-width="1.1" />
<line x1="261.90" y1="404.69" x2="264.30" y2="404.69" stroke="#111" stroke-width="1.1" />
<line x1="261.90" y1="404.13" x2="264.30" y2="404.13" stroke="#111" stroke-width="1.1" />
<line x1="261.90" y1="422.44" x2="264.30" y2="422.44" stroke="#111" stroke-width="1.1" />
<line x1="261.90" y1="420.49" x2="264.30" y2="420.49" stroke="#111" stroke-width="1.1" />
<line x1="261.90" y1="419.11" x2="264.30" y2="419.11" stroke="#111" stroke-width="1.1" />
<line x1="261.90" y1="418.04" x2="264.30" y2="418.04" stroke="#111" stroke-width="1.1" />
<line x1="261.90" y1="417.16" x2="264.30" y2="417.16" stroke="#111" stroke-width="1.1" />
<line x1="261.90" y1="416.42" x2="264.30" y2="416.42" stroke="#111" stroke-width="1.1" />
<line x1="261.90" y1="415.77" x2="264.30" y2="415.77" stroke="#111" stroke-width="1.1" />
<line x1="261.90" y1="415.21" x2="264.30" y2="415.21" stroke="#111" stroke-width="1.1" />
<line x1="263.60" y1="425.80" x2="330.40" y2="425.80" stroke="#231f20" stroke-width="1.4" />
<line x1="264.50" y1="425.80" x2="264.50" y2="429.00" stroke="#231f20" stroke-width="1" />
<text x="0" y="0" font-size="9.44" transform="translate(264.50 438.20) scale(0.840 1)" text-anchor="middle" >0</text>
<line x1="280.51" y1="425.80" x2="280.51" y2="429.00" stroke="#231f20" stroke-width="1" />
<text x="0" y="0" font-size="9.44" transform="translate(280.51 438.20) scale(0.840 1)" text-anchor="middle" >30</text>
<line x1="296.52" y1="425.80" x2="296.52" y2="429.00" stroke="#231f20" stroke-width="1" />
<text x="0" y="0" font-size="9.44" transform="translate(296.52 438.20) scale(0.840 1)" text-anchor="middle" >60</text>
<line x1="312.53" y1="425.80" x2="312.53" y2="429.00" stroke="#231f20" stroke-width="1" />
<text x="0" y="0" font-size="9.44" transform="translate(312.53 438.20) scale(0.840 1)" text-anchor="middle" >90</text>
<line x1="328.54" y1="425.80" x2="328.54" y2="429.00" stroke="#231f20" stroke-width="1" />
<text x="0" y="0" font-size="9.44" transform="translate(328.54 438.20) scale(0.840 1)" text-anchor="middle" >120</text>
<text x="257.60" y="362.20" font-size="9.18" text-anchor="end" transform="translate(257.60 362.20) scale(0.8929 1) translate(-257.60 -362.20)">10<tspan dy="-3.81" font-size="6.05">11</tspan></text>
<text x="257.60" y="373.28" font-size="9.18" text-anchor="end" transform="translate(257.60 373.28) scale(0.8929 1) translate(-257.60 -373.28)">10<tspan dy="-3.81" font-size="6.05">10</tspan></text>
<text x="257.60" y="384.36" font-size="9.18" text-anchor="end" transform="translate(257.60 384.36) scale(0.8929 1) translate(-257.60 -384.36)">10<tspan dy="-3.81" font-size="6.05">9</tspan></text>
<text x="257.60" y="395.44" font-size="9.18" text-anchor="end" transform="translate(257.60 395.44) scale(0.8929 1) translate(-257.60 -395.44)">10<tspan dy="-3.81" font-size="6.05">8</tspan></text>
<text x="257.60" y="406.52" font-size="9.18" text-anchor="end" transform="translate(257.60 406.52) scale(0.8929 1) translate(-257.60 -406.52)">10<tspan dy="-3.81" font-size="6.05">7</tspan></text>
<text x="257.60" y="417.60" font-size="9.18" text-anchor="end" transform="translate(257.60 417.60) scale(0.8929 1) translate(-257.60 -417.60)">10<tspan dy="-3.81" font-size="6.05">6</tspan></text>
<text x="257.60" y="428.68" font-size="9.18" text-anchor="end" transform="translate(257.60 428.68) scale(0.8929 1) translate(-257.60 -428.68)">10<tspan dy="-3.81" font-size="6.05">5</tspan></text>
<g transform="translate(232.70 390.90) rotate(-90)"><text x="0" y="2.94" font-size="9.41" text-anchor="middle" textLength="88.26" lengthAdjust="spacingAndGlyphs" transform="translate(0.00 2.94) scale(0.8929 1) translate(-0.00 -2.94)">Total flux (photons/sec)</text></g>
<text x="254.50" y="450.20" font-size="9.52" textLength="96.10" lengthAdjust="spacingAndGlyphs"  transform="translate(254.50 450.20) scale(0.8929 1) translate(-254.50 -450.20)">Days post tumor injection</text>
<text x="45.00" y="347.00" font-size="10.30" textLength="55.44" lengthAdjust="spacingAndGlyphs"  transform="translate(45.00 347.00) scale(0.8929 1) translate(-45.00 -347.00)">Tumor only</text>
<text x="167.4" y="347.0" font-size="10.30" transform="translate(167.40 347.00) scale(0.8929 1) translate(-167.40 -347.00)">3×10<tspan dy="-3.92" font-size="6.94">6</tspan></text>
<text x="282.4" y="347.0" font-size="10.30" transform="translate(282.40 347.00) scale(0.8929 1) translate(-282.40 -347.00)">10×10<tspan dy="-3.92" font-size="6.94">6</tspan></text>
<polyline points="36.20,417.50 38.00,416.50 40.00,415.50 41.50,413.00 43.00,408.50 44.60,400.80 46.20,390.00 47.70,377.00 49.20,367.70" fill="none" stroke="#c8143c" stroke-width="1.1" stroke-linejoin="round" stroke-linecap="round" />
<polyline points="36.20,416.00 38.50,415.80 40.50,414.00 42.00,411.00 43.50,405.50 45.00,397.00 46.60,386.00 48.20,373.00" fill="none" stroke="#c8143c" stroke-width="1.1" stroke-linejoin="round" stroke-linecap="round" />
<polyline points="36.20,418.50 39.20,416.00 41.00,413.50 42.30,410.80 43.80,406.50 45.20,403.50" fill="none" stroke="#c8143c" stroke-width="1.1" stroke-linejoin="round" stroke-linecap="round" />
<polyline points="36.20,419.50 37.50,417.50 39.50,416.50 41.20,414.50 42.80,410.00 44.30,402.50 45.90,392.00 47.50,380.00 48.90,369.50" fill="none" stroke="#c8143c" stroke-width="1.1" stroke-linejoin="round" stroke-linecap="round" />
<polyline points="36.60,417.00 38.80,416.80 40.80,415.00 42.40,411.50 44.00,404.50 45.60,395.00 47.20,383.00 48.60,372.00" fill="none" stroke="#c8143c" stroke-width="1.1" stroke-linejoin="round" stroke-linecap="round" />
<line x1="45.20" y1="403.50" x2="45.20" y2="401.50" stroke="#c8143c" stroke-width="0.8" />
<polyline points="147.00,412.82 150.24,412.93 153.99,411.96 156.52,413.35 159.54,412.26 164.03,412.69 168.20,412.70 171.98,412.11 175.75,413.40 179.29,413.18 183.14,411.96 187.15,412.91 190.26,411.90 194.49,412.69 198.43,413.42 202.35,413.50 205.64,413.28 209.03,413.53" fill="none" stroke="#1b5a8c" stroke-width="1.1" stroke-linejoin="round" stroke-linecap="round" />
<polyline points="147.00,411.41 149.93,412.91 153.31,412.30 156.41,412.08 159.68,411.80 163.35,412.22 167.66,412.40 172.02,412.71 176.50,412.38 179.32,412.72 183.75,412.80 187.39,412.45 190.31,412.66 193.96,411.68 196.59,412.70 201.07,411.33 205.17,411.91 207.97,411.70" fill="none" stroke="#1b5a8c" stroke-width="1.1" stroke-linejoin="round" stroke-linecap="round" />
<polyline points="147.00,414.97 150.73,414.97 154.67,415.48 158.93,416.65 162.44,416.69 165.56,415.03 169.26,414.95 172.15,415.62 175.87,415.17 178.46,416.45 181.59,416.61 185.88,415.57 189.30,415.83 193.09,415.96 196.71,416.01 201.09,415.80 204.45,416.19 207.43,415.43" fill="none" stroke="#1b5a8c" stroke-width="1.1" stroke-linejoin="round" stroke-linecap="round" />
<polyline points="147.00,414.19 149.52,413.95 153.18,413.24 156.91,414.34 159.53,414.33 162.97,414.42 166.17,414.47 170.15,413.24 172.77,414.42 177.20,413.65 180.61,414.27 183.75,413.86 186.87,413.87 190.57,413.74 193.82,414.59 196.37,414.23 200.34,413.76 203.29,414.65 206.27,413.54" fill="none" stroke="#1b5a8c" stroke-width="1.1" stroke-linejoin="round" stroke-linecap="round" />
<polyline points="147.00,414.23 150.14,414.65 154.31,414.84 158.52,414.36 161.70,415.22 165.97,414.86 168.92,414.27 172.47,414.39 176.59,415.56 179.46,414.55 183.57,415.21 187.68,414.67 190.44,414.58 194.53,414.54 197.72,414.80 201.06,414.79 205.40,414.33 207.91,415.75" fill="none" stroke="#1b5a8c" stroke-width="1.1" stroke-linejoin="round" stroke-linecap="round" />
<polyline points="147.00,416.22 151.40,417.11 154.34,416.78 158.52,416.63 162.06,415.96 165.24,415.85 167.87,416.50 170.95,416.90 173.54,417.06 177.43,417.10 181.72,417.06 185.37,415.46 189.36,415.75 192.46,416.63 196.01,416.18 200.39,416.54 203.57,415.89 207.80,416.30" fill="none" stroke="#1b5a8c" stroke-width="1.1" stroke-linejoin="round" stroke-linecap="round" />
<polyline points="147.00,412.74 150.57,413.86 153.41,413.81 157.76,413.84 161.90,412.40 165.66,413.94 168.26,412.88 171.30,413.34 174.64,413.24 178.70,412.39 181.31,412.62 184.05,412.51 188.50,413.93 191.18,413.29 194.31,412.96 197.51,413.55 201.18,413.04 204.07,412.98 206.81,413.39" fill="none" stroke="#1b5a8c" stroke-width="1.1" stroke-linejoin="round" stroke-linecap="round" />
<polyline points="147.00,412.67 149.86,413.20 153.57,413.93 156.83,413.97 160.57,413.30 163.82,413.42 167.72,413.28 171.61,413.35 174.60,413.49 178.49,412.65 181.84,413.29 186.10,414.21 189.35,414.14 193.43,413.00 196.86,412.75 200.99,413.72 205.26,413.95 209.10,413.85" fill="none" stroke="#1b5a8c" stroke-width="1.1" stroke-linejoin="round" stroke-linecap="round" />
<polyline points="147.00,412.25 149.51,411.45 153.56,411.27 156.24,411.37 160.50,411.52 163.05,412.71 165.79,412.71 169.64,412.70 174.04,412.24 178.14,411.26 182.18,412.12 186.11,411.39 190.10,412.88 192.73,411.78 196.36,412.69 199.34,411.52 202.34,412.30 206.35,411.90 209.58,411.91" fill="none" stroke="#1b5a8c" stroke-width="1.1" stroke-linejoin="round" stroke-linecap="round" />
<polyline points="147.00,412.86 150.50,414.46 153.83,414.05 156.65,413.95 160.66,413.92 164.19,413.58 167.98,414.32 170.78,412.88 174.77,414.36 178.31,413.50 182.25,413.04 185.28,413.07 188.95,413.27 191.92,413.95 196.32,413.24 200.24,413.45 204.44,413.76 207.48,413.10" fill="none" stroke="#1b5a8c" stroke-width="1.1" stroke-linejoin="round" stroke-linecap="round" />
<rect x="148.50" y="412.40" width="60.50" height="3.00" fill="#1b5a8c" />
<polyline points="161.20,410.50 161.80,407.10 163.80,405.80 165.20,389.60 167.20,382.90 169.90,374.80 173.00,368.30" fill="none" stroke="#1b5a8c" stroke-width="1.1" stroke-linejoin="round" stroke-linecap="round" />
<polyline points="175.30,411.80 178.00,400.40 180.70,386.90 182.70,378.80 184.30,374.50" fill="none" stroke="#1b5a8c" stroke-width="1.1" stroke-linejoin="round" stroke-linecap="round" />
<polyline points="180.30,411.80 182.00,399.00 183.40,386.90 184.70,384.20 188.70,380.20" fill="none" stroke="#1b5a8c" stroke-width="1.1" stroke-linejoin="round" stroke-linecap="round" />
<polyline points="186.70,411.80 188.10,408.20 189.70,408.50 190.50,411.80" fill="none" stroke="#1b5a8c" stroke-width="1.1" stroke-linejoin="round" stroke-linecap="round" />
<line x1="192.90" y1="407.60" x2="196.70" y2="407.60" stroke="#4a6a8a" stroke-width="0.8" />
<line x1="194.80" y1="405.30" x2="194.80" y2="410.00" stroke="#4a6a8a" stroke-width="0.8" />
<ellipse cx="193.2" cy="415.4" rx="3.2" ry="0.7" fill="#dfe8f0"/>
<polyline points="264.70,414.34 267.54,414.30 270.69,415.04 273.48,415.43 276.93,414.72 280.37,415.15 284.51,414.65 287.98,414.94 292.19,414.37 296.16,415.38 299.59,414.06 302.56,414.94 306.41,415.37 310.62,414.08 313.50,414.11 316.37,414.92 320.59,415.27 323.60,415.20 326.73,414.41" fill="none" stroke="#41ad4b" stroke-width="1.0" stroke-linejoin="round" stroke-linecap="round" />
<polyline points="264.70,412.79 268.87,413.15 272.08,413.67 275.93,412.64 279.10,413.41 282.57,413.00 286.24,414.34 289.53,413.60 292.26,413.12 296.09,412.83 300.37,414.26 303.06,414.32 306.31,414.01 310.33,413.16 314.18,413.80 318.29,413.10 322.30,414.35 326.14,413.59 328.87,413.51" fill="none" stroke="#41ad4b" stroke-width="1.0" stroke-linejoin="round" stroke-linecap="round" />
<polyline points="264.70,415.49 268.33,414.59 272.12,415.40 274.98,415.87 278.79,414.49 283.16,414.52 286.32,415.56 290.01,415.27 293.81,415.09 296.93,414.58 299.57,415.56 303.58,415.24 307.56,414.91 310.59,414.96 314.84,414.34 318.35,414.71 322.38,414.90 325.55,414.99" fill="none" stroke="#41ad4b" stroke-width="1.0" stroke-linejoin="round" stroke-linecap="round" />
<polyline points="264.70,415.04 268.89,414.61 271.93,414.59 274.66,415.81 278.61,414.74 281.49,415.16 285.48,415.87 289.48,415.47 292.27,415.12 295.16,415.36 298.79,414.77 301.79,415.81 304.35,415.85 308.64,416.12 311.90,415.40 315.57,415.55 320.02,415.64 323.12,415.95 326.59,415.49" fill="none" stroke="#41ad4b" stroke-width="1.0" stroke-linejoin="round" stroke-linecap="round" />
<polyline points="264.70,413.79 268.52,413.29 272.07,413.24 274.96,413.36 277.53,413.31 281.32,413.21 284.96,414.13 289.24,412.65 293.32,413.53 295.93,413.05 298.89,412.55 302.47,414.08 305.62,413.97 309.51,412.65 313.72,413.49 318.08,413.69 322.06,413.02 326.17,414.08" fill="none" stroke="#41ad4b" stroke-width="1.0" stroke-linejoin="round" stroke-linecap="round" />
<polyline points="264.70,414.90 268.17,413.73 270.76,413.68 273.66,413.83 277.15,414.79 280.73,414.30 284.52,414.08 287.95,414.90 291.26,413.86 295.55,414.83 298.79,414.20 302.35,414.61 305.29,413.54 308.21,414.95 311.00,414.36 313.89,413.91 316.73,414.26 319.57,413.59 322.29,413.84 325.77,413.64 328.31,414.34" fill="none" stroke="#41ad4b" stroke-width="1.0" stroke-linejoin="round" stroke-linecap="round" />
<polyline points="264.70,414.32 268.01,414.94 270.56,415.97 273.50,414.40 276.95,414.53 280.69,414.85 283.44,414.32 287.40,414.72 291.47,415.07 295.84,414.77 298.84,414.71 302.97,415.36 306.16,414.40 310.02,415.97 313.70,414.24 316.27,414.39 319.11,414.29 321.71,415.41 326.01,414.59" fill="none" stroke="#41ad4b" stroke-width="1.0" stroke-linejoin="round" stroke-linecap="round" />
<polyline points="264.70,415.25 269.03,415.50 271.60,414.36 275.32,415.51 277.99,414.34 282.19,414.01 285.47,414.41 289.33,415.48 292.18,415.14 296.15,415.31 299.76,415.47" fill="none" stroke="#41ad4b" stroke-width="1.0" stroke-linejoin="round" stroke-linecap="round" />
<polyline points="264.70,413.97 268.76,414.42 271.80,413.86 275.74,414.65 279.66,414.26 283.13,413.84 287.06,413.60 290.49,414.92 294.34,413.73 297.32,415.08" fill="none" stroke="#41ad4b" stroke-width="1.0" stroke-linejoin="round" stroke-linecap="round" />
<polyline points="264.70,416.98 268.10,417.03 272.07,416.01 275.31,415.54 278.60,417.13 281.31,416.44 284.03,415.56 287.83,415.85 290.43,415.69 294.22,416.47 296.74,415.83" fill="none" stroke="#41ad4b" stroke-width="1.0" stroke-linejoin="round" stroke-linecap="round" />
<polyline points="264.70,413.79 268.04,414.19 271.75,414.20 275.32,413.12 278.17,412.92 282.32,412.98 284.87,414.52 287.77,414.39 290.44,413.62 293.39,414.27 297.12,413.94" fill="none" stroke="#41ad4b" stroke-width="1.0" stroke-linejoin="round" stroke-linecap="round" />
<polyline points="264.70,416.01 268.41,416.19 271.13,416.89 274.82,416.85 277.73,416.36 281.16,416.70 283.81,416.01 287.28,415.52 290.89,416.71 294.23,416.55 297.94,415.77" fill="none" stroke="#41ad4b" stroke-width="1.0" stroke-linejoin="round" stroke-linecap="round" />
<rect x="266.00" y="413.60" width="62.50" height="1.80" fill="#41ad4b" />
<polyline points="271.10,413.80 273.10,400.40 275.00,396.00 276.40,396.50 277.40,400.40 278.30,406.00 279.30,412.00" fill="none" stroke="#41ad4b" stroke-width="1.0" stroke-linejoin="round" stroke-linecap="round" />
<polyline points="278.30,413.80 281.20,398.50 282.70,388.80 284.30,382.60" fill="none" stroke="#41ad4b" stroke-width="1.0" stroke-linejoin="round" stroke-linecap="round" />
<polyline points="280.75,413.80 282.50,402.00 285.00,388.80 286.50,383.00 288.00,379.70" fill="none" stroke="#41ad4b" stroke-width="1.0" stroke-linejoin="round" stroke-linecap="round" />
<polyline points="286.50,383.00 287.20,385.00 288.40,388.40" fill="none" stroke="#41ad4b" stroke-width="1.0" stroke-linejoin="round" stroke-linecap="round" />
<polyline points="284.10,413.80 287.20,404.20 288.40,400.40 291.30,394.60 293.70,388.80 295.70,381.20 297.60,370.60" fill="none" stroke="#41ad4b" stroke-width="1.0" stroke-linejoin="round" stroke-linecap="round" />
<polyline points="285.00,410.00 287.00,406.20 289.90,404.20 292.80,402.30 296.60,394.60 300.00,387.90 302.40,379.20 304.30,369.60" fill="none" stroke="#41ad4b" stroke-width="1.0" stroke-linejoin="round" stroke-linecap="round" />
<polyline points="289.00,413.00 293.70,407.10 296.60,400.40 300.50,389.80 304.30,382.10" fill="none" stroke="#41ad4b" stroke-width="1.0" stroke-linejoin="round" stroke-linecap="round" />
<polyline points="294.70,413.80 297.10,400.40 298.50,401.30 300.50,412.00" fill="none" stroke="#41ad4b" stroke-width="1.0" stroke-linejoin="round" stroke-linecap="round" />
<polyline points="283.00,409.00 287.00,411.00 292.00,413.00" fill="none" stroke="#41ad4b" stroke-width="1.0" stroke-linejoin="round" stroke-linecap="round" />
<polyline points="280.00,411.00 284.00,408.00 289.00,410.00 293.00,414.00" fill="none" stroke="#41ad4b" stroke-width="1.0" stroke-linejoin="round" stroke-linecap="round" />
<polyline points="268.00,413.00 270.00,409.00 272.00,412.00" fill="none" stroke="#41ad4b" stroke-width="1.0" stroke-linejoin="round" stroke-linecap="round" />
<polyline points="276.00,413.00 279.00,405.00 281.00,409.00 283.00,413.00" fill="none" stroke="#41ad4b" stroke-width="1.0" stroke-linejoin="round" stroke-linecap="round" />
<polyline points="286.00,412.00 289.00,406.00 292.00,408.00 295.00,413.00" fill="none" stroke="#41ad4b" stroke-width="1.0" stroke-linejoin="round" stroke-linecap="round" />
<polyline points="290.00,411.00 293.00,409.00 297.00,411.00" fill="none" stroke="#41ad4b" stroke-width="1.0" stroke-linejoin="round" stroke-linecap="round" />
<text transform="translate(343.36 346.10) scale(0.873 1)" font-size="11.85" font-weight="bold" style="fill:#000;stroke:#000;stroke-width:0.45px">E</text>
<line x1="376.50" y1="356.20" x2="376.50" y2="425.50" stroke="#231f20" stroke-width="1.3" />
<line x1="375.90" y1="425.50" x2="443.40" y2="425.50" stroke="#231f20" stroke-width="1.3" />
<line x1="373.70" y1="359.00" x2="376.50" y2="359.00" stroke="#231f20" stroke-width="1" />
<text x="0" y="0" font-size="9.44" transform="translate(369.90 361.90) scale(0.840 1)" text-anchor="end" >100</text>
<line x1="373.70" y1="372.30" x2="376.50" y2="372.30" stroke="#231f20" stroke-width="1" />
<text x="0" y="0" font-size="9.44" transform="translate(369.90 375.20) scale(0.840 1)" text-anchor="end" >80</text>
<line x1="373.70" y1="385.60" x2="376.50" y2="385.60" stroke="#231f20" stroke-width="1" />
<text x="0" y="0" font-size="9.44" transform="translate(369.90 388.50) scale(0.840 1)" text-anchor="end" >60</text>
<line x1="373.70" y1="398.90" x2="376.50" y2="398.90" stroke="#231f20" stroke-width="1" />
<text x="0" y="0" font-size="9.44" transform="translate(369.90 401.80) scale(0.840 1)" text-anchor="end" >40</text>
<line x1="373.70" y1="412.20" x2="376.50" y2="412.20" stroke="#231f20" stroke-width="1" />
<text x="0" y="0" font-size="9.44" transform="translate(369.90 415.10) scale(0.840 1)" text-anchor="end" >20</text>
<line x1="373.70" y1="425.50" x2="376.50" y2="425.50" stroke="#231f20" stroke-width="1" />
<text x="0" y="0" font-size="9.44" transform="translate(369.90 428.40) scale(0.840 1)" text-anchor="end" >0</text>
<line x1="376.50" y1="425.50" x2="376.50" y2="428.30" stroke="#231f20" stroke-width="1" />
<text x="0" y="0" font-size="9.44" transform="translate(376.50 438.20) scale(0.840 1)" text-anchor="middle" >0</text>
<line x1="392.27" y1="425.50" x2="392.27" y2="428.30" stroke="#231f20" stroke-width="1" />
<text x="0" y="0" font-size="9.44" transform="translate(392.27 438.20) scale(0.840 1)" text-anchor="middle" >30</text>
<line x1="408.04" y1="425.50" x2="408.04" y2="428.30" stroke="#231f20" stroke-width="1" />
<text x="0" y="0" font-size="9.44" transform="translate(408.04 438.20) scale(0.840 1)" text-anchor="middle" >60</text>
<line x1="423.81" y1="425.50" x2="423.81" y2="428.30" stroke="#231f20" stroke-width="1" />
<text x="0" y="0" font-size="9.44" transform="translate(423.81 438.20) scale(0.840 1)" text-anchor="middle" >90</text>
<line x1="439.58" y1="425.50" x2="439.58" y2="428.30" stroke="#231f20" stroke-width="1" />
<text x="0" y="0" font-size="9.44" transform="translate(439.58 438.20) scale(0.840 1)" text-anchor="middle" >120</text>
<g transform="translate(350.00 390.50) rotate(-90)"><text x="0" y="2.94" font-size="9.41" text-anchor="middle" textLength="43.90" lengthAdjust="spacingAndGlyphs" transform="translate(0.00 2.94) scale(0.8929 1) translate(-0.00 -2.94)">Survival (%)</text></g>
<text x="366.70" y="449.70" font-size="9.52" textLength="95.87" lengthAdjust="spacingAndGlyphs"  transform="translate(366.70 449.70) scale(0.8929 1) translate(-366.70 -449.70)">Days post tumor injection</text>
<polyline points="387.20,359.00 399.20,359.00 399.20,360.50 400.20,360.50 400.20,362.00 401.00,362.00 401.00,364.30 401.80,364.30 401.80,367.40 402.60,367.40 402.60,369.00 409.20,369.00 409.20,372.20 416.90,372.20 416.90,379.40 420.80,379.40 420.80,388.90 445.40,388.90" fill="none" stroke="#3fae4d" stroke-width="1.2" stroke-linejoin="round" stroke-linecap="round" stroke-linejoin="miter" stroke-linecap="butt"/>
<polyline points="399.20,359.00 399.20,360.50 400.40,360.50 400.40,363.00 401.40,363.00 401.40,365.50 402.30,365.50 402.30,367.40 417.70,367.40 417.70,371.20 424.60,371.20 424.60,374.30 425.70,374.30 425.70,376.60 426.90,376.60 426.90,379.70 445.40,379.70" fill="none" stroke="#275b8b" stroke-width="1.2" stroke-linejoin="round" stroke-linecap="round" stroke-linejoin="miter" stroke-linecap="butt"/>
<polyline points="376.50,359.00 387.20,359.00 387.20,392.30 388.80,392.30 388.80,425.50" fill="none" stroke="#c8143c" stroke-width="1.2" stroke-linejoin="round" stroke-linecap="round" stroke-linejoin="miter" stroke-linecap="butt"/>
<line x1="450.00" y1="364.90" x2="456.80" y2="364.90" stroke="#c8143c" stroke-width="1.1" />
<line x1="453.40" y1="363.50" x2="453.40" y2="366.30" stroke="#231f20" stroke-width="0.8" />
<text x="460.0" y="367.70" font-size="9.18" transform="translate(460.00 367.70) scale(0.8929 1) translate(-460.00 -367.70)">Tumor</text>
<line x1="450.00" y1="375.20" x2="456.80" y2="375.20" stroke="#275b8b" stroke-width="1.1" />
<line x1="453.40" y1="373.80" x2="453.40" y2="376.60" stroke="#231f20" stroke-width="0.8" />
<text x="460.0" y="378.00" font-size="9.18" transform="translate(460.00 378.00) scale(0.8929 1) translate(-460.00 -378.00)">3×10<tspan dy="-3.58" font-size="6.27">6</tspan></text>
<line x1="450.00" y1="386.60" x2="456.80" y2="386.60" stroke="#3fae4d" stroke-width="1.1" />
<line x1="453.40" y1="385.20" x2="453.40" y2="388.00" stroke="#231f20" stroke-width="0.8" />
<text x="460.0" y="389.40" font-size="9.18" transform="translate(460.00 389.40) scale(0.8929 1) translate(-460.00 -389.40)">10×10<tspan dy="-3.58" font-size="6.27">6</tspan></text>
<polyline points="484.6,371.6 487.8,371.6 487.8,388.6 484.6,388.6" fill="none" stroke="#231f20" stroke-width="0.9"/>
<text x="491.20" y="382.70" font-size="9.18"  transform="translate(491.20 382.70) scale(0.8929 1) translate(-491.20 -382.70)">ns</text>
<polyline points="496.2,364.6 503.0,364.6 503.0,392.3 496.2,392.3" fill="none" stroke="#231f20" stroke-width="0.9"/>
<text x="505.60" y="382.20" font-size="9.63" textLength="16.13" lengthAdjust="spacingAndGlyphs"  transform="translate(505.60 382.20) scale(0.8929 1) translate(-505.60 -382.20)">****</text>
<text transform="translate(0.84 477.50) scale(0.910 1)" font-size="11.70" font-weight="bold" style="fill:#000;stroke:#000;stroke-width:0.45px">F</text>
<text x="40.00" y="486.30" font-size="8.51" textLength="22.96" lengthAdjust="spacingAndGlyphs"  transform="translate(40.00 486.30) scale(0.8929 1) translate(-40.00 -486.30)">CCRF</text>
<text x="39.6" y="494.4" font-size="8.51" textLength="19.71" lengthAdjust="spacing" transform="translate(39.60 494.40) scale(0.8929 1) translate(-39.60 -494.40)">1×10</text>
<text x="58.0" y="491.2" font-size="6.05" transform="translate(58.00 491.20) scale(0.8929 1) translate(-58.00 -491.20)">4</text>
<text x="73.8" y="486.3" font-size="8.51" textLength="40.32" lengthAdjust="spacingAndGlyphs" transform="translate(73.80 486.30) scale(0.8929 1) translate(-73.80 -486.30)">CD7-CAR</text>
<text x="110.4" y="483.0" font-size="6.16" transform="translate(110.40 483.00) scale(0.8929 1) translate(-110.40 -483.00)">CD7−</text>
<text x="87.50" y="494.40" font-size="8.51" textLength="25.20" lengthAdjust="spacingAndGlyphs"  transform="translate(87.50 494.40) scale(0.8929 1) translate(-87.50 -494.40)">T cells</text>
<text x="142.50" y="486.30" font-size="8.51" textLength="23.74" lengthAdjust="spacingAndGlyphs"  transform="translate(142.50 486.30) scale(0.8929 1) translate(-142.50 -486.30)">CCRF</text>
<text x="142.1" y="494.4" font-size="8.51" textLength="19.71" lengthAdjust="spacing" transform="translate(142.10 494.40) scale(0.8929 1) translate(-142.10 -494.40)">1×10</text>
<text x="160.5" y="491.2" font-size="6.05" transform="translate(160.50 491.20) scale(0.8929 1) translate(-160.50 -491.20)">4</text>
<text x="200.00" y="493.20" font-size="8.51" textLength="32.70" lengthAdjust="spacingAndGlyphs"  transform="translate(200.00 493.20) scale(0.8929 1) translate(-200.00 -493.20)">Analysis</text>
<line x1="47.00" y1="498.80" x2="218.00" y2="498.80" stroke="#231f20" stroke-width="1.1" />
<line x1="50.80" y1="498.80" x2="50.80" y2="501.40" stroke="#231f20" stroke-width="0.9" />
<line x1="98.30" y1="498.80" x2="98.30" y2="501.40" stroke="#231f20" stroke-width="0.9" />
<line x1="153.00" y1="498.80" x2="153.00" y2="501.40" stroke="#231f20" stroke-width="0.9" />
<line x1="214.50" y1="498.80" x2="214.50" y2="501.40" stroke="#231f20" stroke-width="0.9" />
<text x="27.50" y="510.60" font-size="8.51" textLength="15.46" lengthAdjust="spacingAndGlyphs"  transform="translate(27.50 510.60) scale(0.8929 1) translate(-27.50 -510.60)">Day</text>
<text x="50.80" y="510.80" font-size="8.51" text-anchor="middle"  transform="translate(50.80 510.80) scale(0.8929 1) translate(-50.80 -510.80)">0</text>
<text x="98.30" y="510.80" font-size="8.51" text-anchor="middle"  transform="translate(98.30 510.80) scale(0.8929 1) translate(-98.30 -510.80)">7</text>
<text x="138.00" y="510.80" font-size="8.51" textLength="34.38" lengthAdjust="spacingAndGlyphs"  transform="translate(138.00 510.80) scale(0.8929 1) translate(-138.00 -510.80)">113–125</text>
<text x="198.80" y="510.80" font-size="8.51" textLength="34.38" lengthAdjust="spacingAndGlyphs"  transform="translate(198.80 510.80) scale(0.8929 1) translate(-198.80 -510.80)">212–225</text>
<text transform="translate(0.99 542.40) scale(0.942 1)" font-size="11.79" font-weight="bold" style="fill:#000;stroke:#000;stroke-width:0.45px">G</text>
<text x="57.10" y="543.00" font-size="10.30" textLength="59.25" lengthAdjust="spacingAndGlyphs"  transform="translate(57.10 543.00) scale(0.8929 1) translate(-57.10 -543.00)">Rechallenge</text>
<line x1="36.10" y1="551.70" x2="36.10" y2="635.20" stroke="#231f20" stroke-width="1.4" />
<line x1="33.10" y1="555.40" x2="36.10" y2="555.40" stroke="#231f20" stroke-width="1" />
<text x="30.0" y="558.30" font-size="9.18" text-anchor="end" transform="translate(30.00 558.30) scale(0.8929 1) translate(-30.00 -558.30)">10<tspan dy="-3.81" font-size="6.05">10</tspan></text>
<line x1="33.10" y1="571.38" x2="36.10" y2="571.38" stroke="#231f20" stroke-width="1" />
<text x="30.0" y="574.28" font-size="9.18" text-anchor="end" transform="translate(30.00 574.28) scale(0.8929 1) translate(-30.00 -574.28)">10<tspan dy="-3.81" font-size="6.05">9</tspan></text>
<line x1="33.10" y1="587.36" x2="36.10" y2="587.36" stroke="#231f20" stroke-width="1" />
<text x="30.0" y="590.26" font-size="9.18" text-anchor="end" transform="translate(30.00 590.26) scale(0.8929 1) translate(-30.00 -590.26)">10<tspan dy="-3.81" font-size="6.05">8</tspan></text>
<line x1="33.10" y1="603.34" x2="36.10" y2="603.34" stroke="#231f20" stroke-width="1" />
<text x="30.0" y="606.24" font-size="9.18" text-anchor="end" transform="translate(30.00 606.24) scale(0.8929 1) translate(-30.00 -606.24)">10<tspan dy="-3.81" font-size="6.05">7</tspan></text>
<line x1="33.10" y1="619.32" x2="36.10" y2="619.32" stroke="#231f20" stroke-width="1" />
<text x="30.0" y="622.22" font-size="9.18" text-anchor="end" transform="translate(30.00 622.22) scale(0.8929 1) translate(-30.00 -622.22)">10<tspan dy="-3.81" font-size="6.05">6</tspan></text>
<line x1="33.10" y1="635.30" x2="36.10" y2="635.30" stroke="#231f20" stroke-width="1" />
<text x="30.0" y="638.20" font-size="9.18" text-anchor="end" transform="translate(30.00 638.20) scale(0.8929 1) translate(-30.00 -638.20)">10<tspan dy="-3.81" font-size="6.05">5</tspan></text>
<line x1="35.40" y1="635.20" x2="131.00" y2="635.20" stroke="#231f20" stroke-width="1.4" />
<line x1="40.60" y1="635.20" x2="40.60" y2="638.20" stroke="#231f20" stroke-width="1" />
<text x="0" y="0" font-size="9.44" transform="translate(40.60 647.60) scale(0.840 1)" text-anchor="middle" >125</text>
<line x1="62.03" y1="635.20" x2="62.03" y2="638.20" stroke="#231f20" stroke-width="1" />
<text x="0" y="0" font-size="9.44" transform="translate(62.03 647.60) scale(0.840 1)" text-anchor="middle" >150</text>
<line x1="83.45" y1="635.20" x2="83.45" y2="638.20" stroke="#231f20" stroke-width="1" />
<text x="0" y="0" font-size="9.44" transform="translate(83.45 647.60) scale(0.840 1)" text-anchor="middle" >175</text>
<line x1="104.88" y1="635.20" x2="104.88" y2="638.20" stroke="#231f20" stroke-width="1" />
<text x="0" y="0" font-size="9.44" transform="translate(104.88 647.60) scale(0.840 1)" text-anchor="middle" >200</text>
<line x1="126.30" y1="635.20" x2="126.30" y2="638.20" stroke="#231f20" stroke-width="1" />
<text x="0" y="0" font-size="9.44" transform="translate(126.30 647.60) scale(0.840 1)" text-anchor="middle" >225</text>
<line x1="40.40" y1="555.00" x2="40.40" y2="635.20" stroke="#231f20" stroke-width="1" stroke-dasharray="2.2 1.6"/>
<g transform="translate(4.40 593.80) rotate(-90)"><text x="0" y="2.94" font-size="9.41" text-anchor="middle" textLength="88.37" lengthAdjust="spacingAndGlyphs" transform="translate(0.00 2.94) scale(0.8929 1) translate(-0.00 -2.94)">Total flux (photons/sec)</text></g>
<text x="34.60" y="663.00" font-size="9.52" textLength="109.76" lengthAdjust="spacingAndGlyphs"  transform="translate(34.60 663.00) scale(0.8929 1) translate(-34.60 -663.00)">Days post tumor rechallenge</text>
<polyline points="42.00,622.11 45.00,622.56 48.00,622.20 51.00,622.50 54.00,622.30 57.00,621.95 60.00,622.10 63.00,621.59 66.00,621.70 69.00,621.31 72.00,621.24 75.00,621.45 78.00,621.77 81.00,621.37 84.00,621.59 87.00,622.04 90.00,622.45 93.00,622.35 96.00,622.34 99.00,622.82 102.00,622.18 105.00,622.69 108.00,622.18 111.00,621.92 114.00,621.73 117.00,621.69 120.00,621.89 123.00,621.33 125.50,622.05" fill="none" stroke="#41ad4b" stroke-width="1.0" stroke-linejoin="round" stroke-linecap="round" />
<polyline points="42.00,621.50 44.00,623.50 46.00,624.20 48.00,623.60 50.00,623.00 53.00,624.00 56.00,623.20 60.00,622.60" fill="none" stroke="#41ad4b" stroke-width="1.0" stroke-linejoin="round" stroke-linecap="round" />
<polyline points="40.60,619.94 43.60,619.91 46.60,619.41 49.60,619.26 52.60,619.24 55.60,619.50 58.60,619.30 61.60,619.26 64.60,619.54 67.60,619.57 70.60,619.62 73.60,620.13 76.60,620.21 79.60,620.00 82.60,620.29 85.60,620.26 88.60,620.46 91.60,620.25 94.60,619.80 97.60,620.13 100.60,619.37 103.60,619.44 106.60,619.58 109.60,619.11 112.60,619.36 115.60,619.11 118.60,619.66 121.60,619.88 124.60,619.90 125.50,620.03" fill="none" stroke="#1d4e7e" stroke-width="1.0" stroke-linejoin="round" stroke-linecap="round" />
<polyline points="40.60,620.78 43.60,620.82 46.60,620.89 49.60,620.82 52.60,621.05 55.60,621.03 58.60,620.57 61.60,620.54 64.60,619.96 67.60,620.27 70.60,620.12 73.60,620.30 76.60,620.18 79.60,619.86 82.60,620.04 85.60,620.37 88.60,620.08 91.60,620.55 94.60,620.48 97.60,620.54 100.60,620.54 103.60,621.02 106.60,620.51 109.60,620.47 112.60,620.42 115.60,620.60 118.60,619.89 121.60,620.03 124.60,620.01 125.50,620.63" fill="none" stroke="#1d4e7e" stroke-width="1.0" stroke-linejoin="round" stroke-linecap="round" />
<polyline points="40.60,621.00 43.60,620.48 46.60,620.51 49.60,620.45 52.60,620.87 55.60,621.01 58.60,620.58 61.60,620.76 64.60,620.96 67.60,621.10 70.60,621.38 73.60,621.51 76.60,621.27 79.60,621.03 82.60,621.22 85.60,621.04 88.60,621.02 91.60,621.13 94.60,620.81 97.60,620.60 100.60,620.63 103.60,620.69 106.60,620.33 109.60,621.04 112.60,621.11 115.60,621.34 118.60,621.44 121.60,621.27 124.60,621.36 125.50,620.76" fill="none" stroke="#1d4e7e" stroke-width="1.0" stroke-linejoin="round" stroke-linecap="round" />
<polyline points="40.60,619.00 41.50,622.50 42.50,623.20 44.00,621.00 46.00,620.00" fill="none" stroke="#1d4e7e" stroke-width="1.0" stroke-linejoin="round" stroke-linecap="round" />
<polyline points="118.00,620.50 122.00,621.50 125.50,622.80" fill="none" stroke="#1d4e7e" stroke-width="1.0" stroke-linejoin="round" stroke-linecap="round" />
<polyline points="44.10,619.70 46.00,616.00 48.10,611.00 50.50,606.00 53.00,599.50 55.00,592.00 56.60,584.00 57.70,576.00 58.40,569.00 58.90,566.10" fill="none" stroke="#c4163f" stroke-width="1.2" stroke-linejoin="round" stroke-linecap="round" />
<polyline points="44.30,619.70 46.50,615.50 48.80,611.20 51.00,608.50 53.00,605.00 54.50,599.00 55.80,591.00 56.90,583.00 57.80,575.00 58.50,569.00" fill="none" stroke="#c4163f" stroke-width="1.2" stroke-linejoin="round" stroke-linecap="round" />
<polyline points="51.20,619.70 52.80,618.50 54.20,616.70 55.30,611.00 56.20,604.00 57.00,596.00 57.70,588.00 58.30,579.00" fill="none" stroke="#c4163f" stroke-width="1.2" stroke-linejoin="round" stroke-linecap="round" />
<polyline points="44.50,619.50 47.00,614.50 49.50,609.50 52.00,604.00 54.30,597.00 56.00,589.00 57.30,580.00 58.30,571.00" fill="none" stroke="#c4163f" stroke-width="1.2" stroke-linejoin="round" stroke-linecap="round" />
<polyline points="45.00,619.80 47.50,615.80 50.00,611.50 52.50,607.00 54.60,601.00 56.30,593.00 57.60,584.00 58.50,575.00" fill="none" stroke="#c4163f" stroke-width="1.2" stroke-linejoin="round" stroke-linecap="round" />
<polyline points="44.80,619.60 47.20,615.00 49.80,610.00 52.20,605.50 54.40,599.00 56.20,591.00 57.50,582.00 58.60,572.00" fill="none" stroke="#c4163f" stroke-width="1.2" stroke-linejoin="round" stroke-linecap="round" />
<line x1="103.80" y1="557.40" x2="110.20" y2="557.40" stroke="#cf3d62" stroke-width="1.5" />
<text x="112.6" y="560.20" font-size="9.18" textLength="42.11" lengthAdjust="spacingAndGlyphs" transform="translate(112.60 560.20) scale(0.8929 1) translate(-112.60 -560.20)">Tumor only</text>
<line x1="103.80" y1="569.00" x2="110.20" y2="569.00" stroke="#2f5a86" stroke-width="1.5" />
<text x="112.6" y="571.80" font-size="9.18" transform="translate(112.60 571.80) scale(0.8929 1) translate(-112.60 -571.80)">3×10<tspan dy="-3.36" font-size="6.05">6</tspan></text>
<line x1="103.80" y1="579.80" x2="110.20" y2="579.80" stroke="#6dbb78" stroke-width="1.5" />
<text x="112.6" y="582.60" font-size="9.18" transform="translate(112.60 582.60) scale(0.8929 1) translate(-112.60 -582.60)">10×10<tspan dy="-3.36" font-size="6.05">6</tspan></text>
<text transform="translate(202.53 542.40) scale(1.034 1)" font-size="11.85" font-weight="bold" style="fill:#000;stroke:#000;stroke-width:0.45px">H</text>
<rect x="229.50" y="537.00" width="4.80" height="4.60" fill="#c8143c" />
<text x="236.9" y="542.2" font-size="8.74" transform="translate(236.90 542.20) scale(0.8929 1) translate(-236.90 -542.20)">NT<tspan dy="-3.14" font-size="5.82">CD7−</tspan></text>
<rect x="267.40" y="537.00" width="4.80" height="4.60" fill="#1b4f86" />
<text x="274.3" y="542.2" font-size="8.74" transform="translate(274.30 542.20) scale(0.8929 1) translate(-274.30 -542.20)">CD7-CAR<tspan dy="-3.14" font-size="5.82">CD7−</tspan></text>
<line x1="236.40" y1="552.20" x2="236.40" y2="635.20" stroke="#231f20" stroke-width="1.3" />
<line x1="233.80" y1="635.20" x2="315.60" y2="635.20" stroke="#231f20" stroke-width="1.3" />
<line x1="233.80" y1="555.60" x2="236.40" y2="555.60" stroke="#231f20" stroke-width="1" />
<text x="0" y="0" font-size="9.44" transform="translate(229.60 558.50) scale(0.840 1)" text-anchor="end" >100</text>
<line x1="233.80" y1="571.52" x2="236.40" y2="571.52" stroke="#231f20" stroke-width="1" />
<text x="0" y="0" font-size="9.44" transform="translate(229.60 574.42) scale(0.840 1)" text-anchor="end" >80</text>
<line x1="233.80" y1="587.44" x2="236.40" y2="587.44" stroke="#231f20" stroke-width="1" />
<text x="0" y="0" font-size="9.44" transform="translate(229.60 590.34) scale(0.840 1)" text-anchor="end" >60</text>
<line x1="233.80" y1="603.36" x2="236.40" y2="603.36" stroke="#231f20" stroke-width="1" />
<text x="0" y="0" font-size="9.44" transform="translate(229.60 606.26) scale(0.840 1)" text-anchor="end" >40</text>
<line x1="233.80" y1="619.28" x2="236.40" y2="619.28" stroke="#231f20" stroke-width="1" />
<text x="0" y="0" font-size="9.44" transform="translate(229.60 622.18) scale(0.840 1)" text-anchor="end" >20</text>
<line x1="233.80" y1="635.20" x2="236.40" y2="635.20" stroke="#231f20" stroke-width="1" />
<text x="0" y="0" font-size="9.44" transform="translate(229.60 638.10) scale(0.840 1)" text-anchor="end" >0</text>
<rect x="244.30" y="556.00" width="10.60" height="79.20" fill="#c8143c" />
<rect x="244.30" y="563.16" width="10.60" height="72.04" fill="#1b4f86" />
<line x1="249.60" y1="556.60" x2="249.60" y2="569.30" stroke="#14142a" stroke-width="1.1" />
<line x1="247.60" y1="569.30" x2="251.60" y2="569.30" stroke="#14142a" stroke-width="1.1" />
<line x1="249.60" y1="635.20" x2="249.60" y2="637.80" stroke="#231f20" stroke-width="1" />
<g transform="translate(252.40 639.6) rotate(-90)"><text x="0" y="0" font-size="9.18" text-anchor="end" textLength="24.64" lengthAdjust="spacingAndGlyphs" transform="translate(0.00 0.00) scale(0.8929 1) translate(-0.00 -0.00)">Blood</text></g>
<rect x="270.80" y="556.00" width="10.60" height="79.20" fill="#c8143c" />
<rect x="270.80" y="565.71" width="10.60" height="69.49" fill="#1b4f86" />
<line x1="276.10" y1="556.80" x2="276.10" y2="573.00" stroke="#14142a" stroke-width="1.1" />
<line x1="274.10" y1="563.40" x2="278.10" y2="563.40" stroke="#14142a" stroke-width="1.1" />
<line x1="274.10" y1="573.00" x2="278.10" y2="573.00" stroke="#14142a" stroke-width="1.1" />
<line x1="276.10" y1="635.20" x2="276.10" y2="637.80" stroke="#231f20" stroke-width="1" />
<g transform="translate(278.90 639.6) rotate(-90)"><text x="0" y="0" font-size="9.18" text-anchor="end" textLength="54.21" lengthAdjust="spacingAndGlyphs" transform="translate(0.00 0.00) scale(0.8929 1) translate(-0.00 -0.00)">Bone marrow</text></g>
<rect x="297.20" y="555.76" width="10.60" height="79.44" fill="#c8143c" />
<rect x="297.20" y="559.98" width="10.60" height="75.22" fill="#1b4f86" />
<line x1="302.50" y1="555.60" x2="302.50" y2="565.30" stroke="#14142a" stroke-width="1.1" />
<line x1="300.50" y1="558.70" x2="304.50" y2="558.70" stroke="#14142a" stroke-width="1.1" />
<line x1="300.50" y1="565.30" x2="304.50" y2="565.30" stroke="#14142a" stroke-width="1.1" />
<line x1="302.50" y1="635.20" x2="302.50" y2="637.80" stroke="#231f20" stroke-width="1" />
<g transform="translate(305.30 639.6) rotate(-90)"><text x="0" y="0" font-size="9.18" text-anchor="end" textLength="28.11" lengthAdjust="spacingAndGlyphs" transform="translate(0.00 0.00) scale(0.8929 1) translate(-0.00 -0.00)">Spleen</text></g>
<g transform="translate(206.4 593.7) rotate(-90)"><text x="0" y="2.8" font-size="8.96" text-anchor="middle" textLength="103.04" lengthAdjust="spacingAndGlyphs" transform="translate(0.00 2.80) scale(0.8929 1) translate(-0.00 -2.80)">CAR+/CD3+ CD7− cells (%)</text></g>
<text transform="translate(373.31 542.60) scale(1.030 1)" font-size="12.14" font-weight="bold" style="fill:#000;stroke:#000;stroke-width:0.45px">I</text>
<rect x="430.60" y="537.80" width="5.00" height="5.00" fill="#c8143c" />
<text x="437.80" y="543.20" font-size="9.41" textLength="20.94" lengthAdjust="spacingAndGlyphs"  transform="translate(437.80 543.20) scale(0.8929 1) translate(-437.80 -543.20)">CD4+</text>
<rect x="468.00" y="537.80" width="5.00" height="5.00" fill="#1b4f86" />
<text x="474.40" y="543.20" font-size="9.41" textLength="22.62" lengthAdjust="spacingAndGlyphs"  transform="translate(474.40 543.20) scale(0.8929 1) translate(-474.40 -543.20)">CD8+</text>
<line x1="406.80" y1="551.60" x2="406.80" y2="635.20" stroke="#231f20" stroke-width="1.3" />
<line x1="406.20" y1="635.20" x2="514.40" y2="635.20" stroke="#231f20" stroke-width="1.3" />
<line x1="404.20" y1="555.60" x2="406.80" y2="555.60" stroke="#231f20" stroke-width="1" />
<text x="0" y="0" font-size="9.44" transform="translate(400.80 558.50) scale(0.840 1)" text-anchor="end" >100</text>
<line x1="404.20" y1="595.40" x2="406.80" y2="595.40" stroke="#231f20" stroke-width="1" />
<text x="0" y="0" font-size="9.44" transform="translate(400.80 598.30) scale(0.840 1)" text-anchor="end" >50</text>
<line x1="404.20" y1="635.20" x2="406.80" y2="635.20" stroke="#231f20" stroke-width="1" />
<text x="0" y="0" font-size="9.44" transform="translate(400.80 638.10) scale(0.840 1)" text-anchor="end" >0</text>
<rect x="412.90" y="555.60" width="10.40" height="79.60" fill="#c8143c" />
<rect x="412.90" y="604.16" width="10.40" height="31.04" fill="#1b4f86" />
<line x1="418.10" y1="635.20" x2="418.10" y2="637.60" stroke="#231f20" stroke-width="1" />
<rect x="435.40" y="556.79" width="10.40" height="78.41" fill="#c8143c" />
<rect x="435.40" y="557.99" width="10.40" height="77.21" fill="#1b4f86" />
<line x1="440.60" y1="635.20" x2="440.60" y2="637.60" stroke="#231f20" stroke-width="1" />
<rect x="457.70" y="556.00" width="10.40" height="79.20" fill="#c8143c" />
<rect x="457.70" y="565.15" width="10.40" height="70.05" fill="#1b4f86" />
<line x1="462.90" y1="556.90" x2="462.90" y2="573.60" stroke="#14142a" stroke-width="1.1" />
<line x1="460.90" y1="563.80" x2="464.90" y2="563.80" stroke="#14142a" stroke-width="1.1" />
<line x1="460.90" y1="573.60" x2="464.90" y2="573.60" stroke="#14142a" stroke-width="1.1" />
<line x1="462.90" y1="635.20" x2="462.90" y2="637.60" stroke="#231f20" stroke-width="1" />
<rect x="480.00" y="555.20" width="10.40" height="80.00" fill="#c8143c" />
<rect x="480.00" y="557.99" width="10.40" height="77.21" fill="#1b4f86" />
<line x1="485.20" y1="555.60" x2="485.20" y2="560.40" stroke="#14142a" stroke-width="1.1" />
<line x1="483.20" y1="560.40" x2="487.20" y2="560.40" stroke="#14142a" stroke-width="1.1" />
<line x1="485.20" y1="635.20" x2="485.20" y2="637.60" stroke="#231f20" stroke-width="1" />
<rect x="502.20" y="556.00" width="10.40" height="79.20" fill="#c8143c" />
<rect x="502.20" y="565.31" width="10.40" height="69.89" fill="#1b4f86" />
<line x1="507.40" y1="556.90" x2="507.40" y2="574.00" stroke="#14142a" stroke-width="1.1" />
<line x1="505.40" y1="563.80" x2="509.40" y2="563.80" stroke="#14142a" stroke-width="1.1" />
<line x1="505.40" y1="574.00" x2="509.40" y2="574.00" stroke="#14142a" stroke-width="1.1" />
<line x1="507.40" y1="635.20" x2="507.40" y2="637.60" stroke="#231f20" stroke-width="1" />
<g transform="translate(421.20 640.4) rotate(-90)"><text x="0" y="0" font-size="9.18" text-anchor="end" textLength="46.48" lengthAdjust="spacingAndGlyphs" transform="translate(0.00 0.00) scale(0.8929 1) translate(-0.00 -0.00)">Bulk T cells</text></g>
<g transform="translate(465.20 640.4) rotate(-90)"><text x="0" y="0" font-size="9.18" text-anchor="end" textLength="24.53" lengthAdjust="spacingAndGlyphs" transform="translate(0.00 0.00) scale(0.8929 1) translate(-0.00 -0.00)">Blood</text></g>
<g transform="translate(487.60 640.4) rotate(-90)"><text x="0" y="0" font-size="9.18" text-anchor="end" textLength="14.11" lengthAdjust="spacingAndGlyphs" transform="translate(0.00 0.00) scale(0.8929 1) translate(-0.00 -0.00)">BM</text></g>
<g transform="translate(510.00 640.4) rotate(-90)"><text x="0" y="0" font-size="9.18" text-anchor="end" textLength="29.68" lengthAdjust="spacingAndGlyphs" transform="translate(0.00 0.00) scale(0.8929 1) translate(-0.00 -0.00)">Spleen</text></g>
<g transform="translate(444.2 640.4) rotate(-90)"><text x="0" y="0" font-size="9.18" text-anchor="end" transform="translate(0.00 0.00) scale(0.8929 1) translate(-0.00 -0.00)">CD7-CAR<tspan dy="-3.14" font-size="6.05">CD7−</tspan></text></g>
<g transform="translate(378.40 593.00) rotate(-90)"><text x="0" y="3.15" font-size="10.08" text-anchor="middle" textLength="54.32" lengthAdjust="spacingAndGlyphs" transform="translate(0.00 3.15) scale(0.8929 1) translate(-0.00 -3.15)">Frequency (%)</text></g>
<line x1="460.50" y1="668.80" x2="513.10" y2="668.80" stroke="#231f20" stroke-width="0.9" />
<text x="456.5" y="680.3" font-size="8.96" textLength="36.96" lengthAdjust="spacingAndGlyphs" transform="translate(456.50 680.30) scale(0.8929 1) translate(-456.50 -680.30)">CD7-CAR</text>
<text x="489.9" y="677.3" font-size="6.05" textLength="12.99" lengthAdjust="spacingAndGlyphs" transform="translate(489.90 677.30) scale(0.8929 1) translate(-489.90 -677.30)">CD7−</text>
</svg></body></html>
